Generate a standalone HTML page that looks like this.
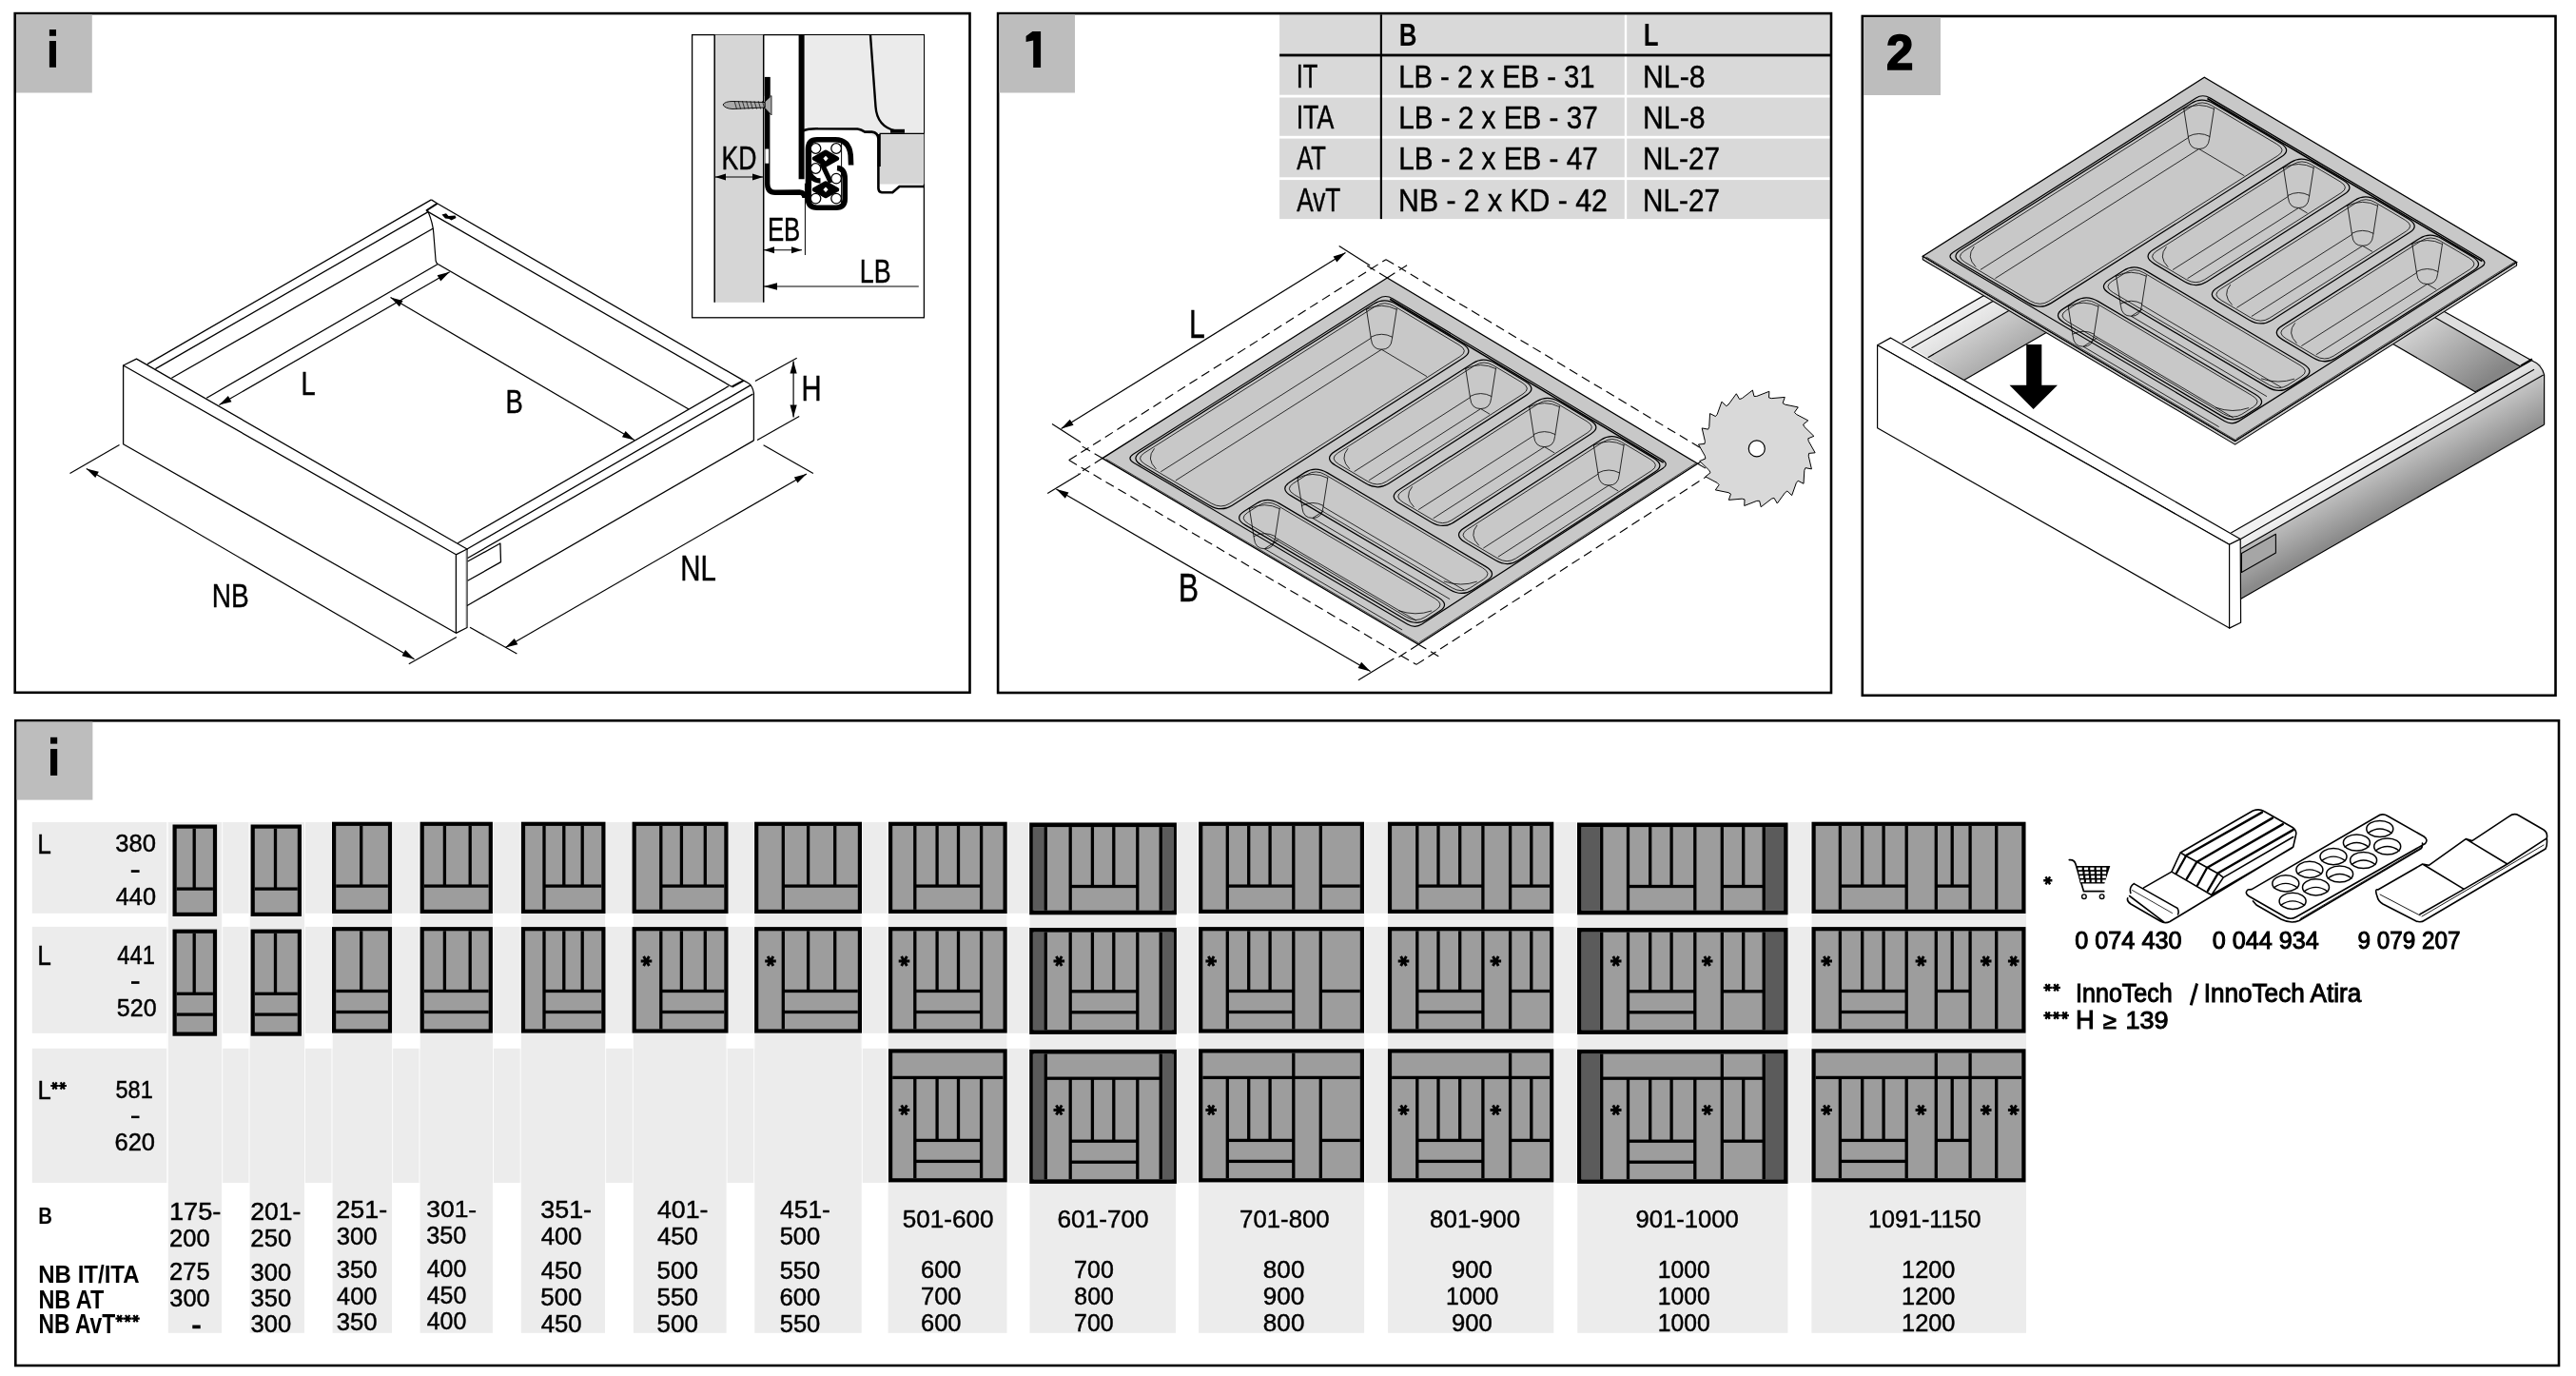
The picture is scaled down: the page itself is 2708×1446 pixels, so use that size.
<!DOCTYPE html><html><head><meta charset="utf-8"><style>html,body{margin:0;padding:0;background:#fff;overflow:hidden}svg{display:block;will-change:transform}text{font-family:"Liberation Sans",sans-serif}</style></head><body><svg xmlns="http://www.w3.org/2000/svg" width="2708" height="1446" viewBox="0 0 2708 1446" font-family="Liberation Sans, sans-serif"><rect x="33.80" y="864.00" width="2096.20" height="95.80" fill="#ececec"/><rect x="33.80" y="973.90" width="2096.20" height="111.90" fill="#ececec"/><rect x="33.80" y="1101.80" width="2096.20" height="141.20" fill="#ececec"/><rect x="176.80" y="864.00" width="56.30" height="536.80" fill="#ececec"/><rect x="262.60" y="864.00" width="57.30" height="536.80" fill="#ececec"/><rect x="349.60" y="864.00" width="62.40" height="536.80" fill="#ececec"/><rect x="441.60" y="864.00" width="76.30" height="536.80" fill="#ececec"/><rect x="547.80" y="864.00" width="88.20" height="536.80" fill="#ececec"/><rect x="665.90" y="864.00" width="97.70" height="536.80" fill="#ececec"/><rect x="793.30" y="864.00" width="112.40" height="536.80" fill="#ececec"/><rect x="933.60" y="864.00" width="124.90" height="536.80" fill="#ececec"/><rect x="1082.50" y="864.00" width="153.50" height="536.80" fill="#ececec"/><rect x="1260.10" y="864.00" width="174.00" height="536.80" fill="#ececec"/><rect x="1459.10" y="864.00" width="174.20" height="536.80" fill="#ececec"/><rect x="1658.30" y="864.00" width="221.10" height="536.80" fill="#ececec"/><rect x="1904.40" y="864.00" width="225.60" height="536.80" fill="#ececec"/><rect x="175.30" y="864.00" width="1.00" height="379.00" fill="#fdfdfd"/><rect x="175.70" y="864.00" width="1.00" height="379.00" fill="#fdfdfd"/><rect x="233.20" y="864.00" width="1.00" height="379.00" fill="#fdfdfd"/><rect x="261.50" y="864.00" width="1.00" height="379.00" fill="#fdfdfd"/><rect x="320.00" y="864.00" width="1.00" height="379.00" fill="#fdfdfd"/><rect x="348.50" y="864.00" width="1.00" height="379.00" fill="#fdfdfd"/><rect x="412.10" y="864.00" width="1.00" height="379.00" fill="#fdfdfd"/><rect x="440.50" y="864.00" width="1.00" height="379.00" fill="#fdfdfd"/><rect x="518.00" y="864.00" width="1.00" height="379.00" fill="#fdfdfd"/><rect x="546.70" y="864.00" width="1.00" height="379.00" fill="#fdfdfd"/><rect x="636.10" y="864.00" width="1.00" height="379.00" fill="#fdfdfd"/><rect x="664.80" y="864.00" width="1.00" height="379.00" fill="#fdfdfd"/><rect x="763.70" y="864.00" width="1.00" height="379.00" fill="#fdfdfd"/><rect x="792.20" y="864.00" width="1.00" height="379.00" fill="#fdfdfd"/><rect x="905.80" y="864.00" width="1.00" height="379.00" fill="#fdfdfd"/><rect x="932.50" y="864.00" width="1.00" height="379.00" fill="#fdfdfd"/><rect x="1058.60" y="864.00" width="1.00" height="379.00" fill="#fdfdfd"/><rect x="1081.40" y="864.00" width="1.00" height="379.00" fill="#fdfdfd"/><rect x="1236.10" y="864.00" width="1.00" height="379.00" fill="#fdfdfd"/><rect x="1259.00" y="864.00" width="1.00" height="379.00" fill="#fdfdfd"/><rect x="1434.20" y="864.00" width="1.00" height="379.00" fill="#fdfdfd"/><rect x="1458.00" y="864.00" width="1.00" height="379.00" fill="#fdfdfd"/><rect x="1633.40" y="864.00" width="1.00" height="379.00" fill="#fdfdfd"/><rect x="1657.20" y="864.00" width="1.00" height="379.00" fill="#fdfdfd"/><rect x="1879.50" y="864.00" width="1.00" height="379.00" fill="#fdfdfd"/><rect x="1903.30" y="864.00" width="1.00" height="379.00" fill="#fdfdfd"/><rect x="2130.10" y="864.00" width="1.00" height="379.00" fill="#fdfdfd"/><rect x="181.50" y="866.50" width="46.60" height="96.50" fill="#000"/><rect x="185.70" y="870.70" width="38.20" height="88.10" fill="#9d9d9d"/><rect x="185.70" y="932.45" width="38.20" height="3.30" fill="#000"/><rect x="202.55" y="870.70" width="3.30" height="63.40" fill="#000"/><rect x="181.50" y="976.60" width="46.60" height="112.10" fill="#000"/><rect x="185.70" y="980.80" width="38.20" height="103.70" fill="#9d9d9d"/><rect x="185.70" y="1042.65" width="38.20" height="3.30" fill="#000"/><rect x="185.70" y="1064.45" width="38.20" height="3.30" fill="#000"/><rect x="202.55" y="980.80" width="3.30" height="63.50" fill="#000"/><rect x="263.60" y="866.50" width="53.40" height="96.50" fill="#000"/><rect x="267.80" y="870.70" width="45.00" height="88.10" fill="#9d9d9d"/><rect x="267.80" y="932.45" width="45.00" height="3.30" fill="#000"/><rect x="287.85" y="870.70" width="3.30" height="63.40" fill="#000"/><rect x="263.60" y="976.60" width="53.40" height="112.10" fill="#000"/><rect x="267.80" y="980.80" width="45.00" height="103.70" fill="#9d9d9d"/><rect x="267.80" y="1042.65" width="45.00" height="3.30" fill="#000"/><rect x="267.80" y="1064.45" width="45.00" height="3.30" fill="#000"/><rect x="287.85" y="980.80" width="3.30" height="63.50" fill="#000"/><rect x="349.00" y="863.70" width="63.10" height="96.30" fill="#000"/><rect x="353.20" y="867.90" width="54.70" height="87.90" fill="#9d9d9d"/><rect x="353.20" y="929.45" width="54.70" height="3.30" fill="#000"/><rect x="378.05" y="867.90" width="3.30" height="63.20" fill="#000"/><rect x="349.00" y="974.10" width="63.10" height="111.50" fill="#000"/><rect x="353.20" y="978.30" width="54.70" height="103.10" fill="#9d9d9d"/><rect x="353.20" y="1039.85" width="54.70" height="3.30" fill="#000"/><rect x="353.20" y="1061.85" width="54.70" height="3.30" fill="#000"/><rect x="378.05" y="978.30" width="3.30" height="63.20" fill="#000"/><rect x="441.60" y="863.70" width="76.30" height="96.30" fill="#000"/><rect x="445.80" y="867.90" width="67.90" height="87.90" fill="#9d9d9d"/><rect x="445.80" y="929.45" width="67.90" height="3.30" fill="#000"/><rect x="465.75" y="867.90" width="3.30" height="63.20" fill="#000"/><rect x="492.55" y="867.90" width="3.30" height="63.20" fill="#000"/><rect x="441.60" y="974.10" width="76.30" height="111.50" fill="#000"/><rect x="445.80" y="978.30" width="67.90" height="103.10" fill="#9d9d9d"/><rect x="445.80" y="1039.85" width="67.90" height="3.30" fill="#000"/><rect x="445.80" y="1061.85" width="67.90" height="3.30" fill="#000"/><rect x="465.75" y="978.30" width="3.30" height="63.20" fill="#000"/><rect x="492.55" y="978.30" width="3.30" height="63.20" fill="#000"/><rect x="547.90" y="863.70" width="88.60" height="96.30" fill="#000"/><rect x="552.10" y="867.90" width="80.20" height="87.90" fill="#9d9d9d"/><rect x="570.35" y="867.90" width="3.30" height="87.90" fill="#000"/><rect x="572.00" y="929.45" width="60.30" height="3.30" fill="#000"/><rect x="591.15" y="867.90" width="3.30" height="63.20" fill="#000"/><rect x="610.55" y="867.90" width="3.30" height="63.20" fill="#000"/><rect x="547.90" y="974.10" width="88.60" height="111.50" fill="#000"/><rect x="552.10" y="978.30" width="80.20" height="103.10" fill="#9d9d9d"/><rect x="570.35" y="978.30" width="3.30" height="103.10" fill="#000"/><rect x="572.00" y="1039.85" width="60.30" height="3.30" fill="#000"/><rect x="572.00" y="1061.85" width="60.30" height="3.30" fill="#000"/><rect x="591.15" y="978.30" width="3.30" height="63.20" fill="#000"/><rect x="610.55" y="978.30" width="3.30" height="63.20" fill="#000"/><rect x="664.60" y="863.70" width="100.90" height="96.30" fill="#000"/><rect x="668.80" y="867.90" width="92.50" height="87.90" fill="#9d9d9d"/><rect x="693.15" y="867.90" width="3.30" height="87.90" fill="#000"/><rect x="694.80" y="929.45" width="66.50" height="3.30" fill="#000"/><rect x="714.75" y="867.90" width="3.30" height="63.20" fill="#000"/><rect x="739.65" y="867.90" width="3.30" height="63.20" fill="#000"/><rect x="664.60" y="974.10" width="100.90" height="111.50" fill="#000"/><rect x="668.80" y="978.30" width="92.50" height="103.10" fill="#9d9d9d"/><rect x="693.15" y="978.30" width="3.30" height="103.10" fill="#000"/><rect x="694.80" y="1039.85" width="66.50" height="3.30" fill="#000"/><rect x="694.80" y="1061.85" width="66.50" height="3.30" fill="#000"/><rect x="714.75" y="978.30" width="3.30" height="63.20" fill="#000"/><rect x="739.65" y="978.30" width="3.30" height="63.20" fill="#000"/><path d="M673.70 1010.00L685.30 1010.00M676.60 1004.98L682.40 1015.02M682.40 1004.98L676.60 1015.02" stroke="#000" stroke-width="2.90" fill="none"/><rect x="793.10" y="863.70" width="112.90" height="96.30" fill="#000"/><rect x="797.30" y="867.90" width="104.50" height="87.90" fill="#9d9d9d"/><rect x="821.65" y="867.90" width="3.30" height="87.90" fill="#000"/><rect x="823.30" y="929.45" width="78.50" height="3.30" fill="#000"/><rect x="847.95" y="867.90" width="3.30" height="63.20" fill="#000"/><rect x="876.05" y="867.90" width="3.30" height="63.20" fill="#000"/><rect x="793.10" y="974.10" width="112.90" height="111.50" fill="#000"/><rect x="797.30" y="978.30" width="104.50" height="103.10" fill="#9d9d9d"/><rect x="821.65" y="978.30" width="3.30" height="103.10" fill="#000"/><rect x="823.30" y="1039.85" width="78.50" height="3.30" fill="#000"/><rect x="823.30" y="1061.85" width="78.50" height="3.30" fill="#000"/><rect x="847.95" y="978.30" width="3.30" height="63.20" fill="#000"/><rect x="876.05" y="978.30" width="3.30" height="63.20" fill="#000"/><path d="M804.20 1010.00L815.80 1010.00M807.10 1004.98L812.90 1015.02M812.90 1004.98L807.10 1015.02" stroke="#000" stroke-width="2.90" fill="none"/><rect x="934.00" y="863.70" width="124.70" height="96.30" fill="#000"/><rect x="938.20" y="867.90" width="116.30" height="87.90" fill="#9d9d9d"/><rect x="960.15" y="867.90" width="3.30" height="87.90" fill="#000"/><rect x="1029.95" y="867.90" width="3.30" height="87.90" fill="#000"/><rect x="961.80" y="929.45" width="69.80" height="3.30" fill="#000"/><rect x="983.45" y="867.90" width="3.30" height="63.20" fill="#000"/><rect x="1005.85" y="867.90" width="3.30" height="63.20" fill="#000"/><rect x="934.00" y="974.10" width="124.70" height="111.50" fill="#000"/><rect x="938.20" y="978.30" width="116.30" height="103.10" fill="#9d9d9d"/><rect x="960.15" y="978.30" width="3.30" height="103.10" fill="#000"/><rect x="1029.95" y="978.30" width="3.30" height="103.10" fill="#000"/><rect x="961.80" y="1039.85" width="69.80" height="3.30" fill="#000"/><rect x="961.80" y="1061.85" width="69.80" height="3.30" fill="#000"/><rect x="983.45" y="978.30" width="3.30" height="63.20" fill="#000"/><rect x="1005.85" y="978.30" width="3.30" height="63.20" fill="#000"/><path d="M944.70 1010.00L956.30 1010.00M947.60 1004.98L953.40 1015.02M953.40 1004.98L947.60 1015.02" stroke="#000" stroke-width="2.90" fill="none"/><rect x="934.00" y="1102.30" width="124.70" height="140.10" fill="#000"/><rect x="938.20" y="1106.50" width="116.30" height="131.70" fill="#9d9d9d"/><rect x="938.20" y="1130.75" width="116.30" height="3.30" fill="#000"/><rect x="960.15" y="1132.40" width="3.30" height="105.80" fill="#000"/><rect x="1029.95" y="1132.40" width="3.30" height="105.80" fill="#000"/><rect x="961.80" y="1196.75" width="69.80" height="3.30" fill="#000"/><rect x="961.80" y="1218.75" width="69.80" height="3.30" fill="#000"/><rect x="983.45" y="1132.40" width="3.30" height="66.00" fill="#000"/><rect x="1005.85" y="1132.40" width="3.30" height="66.00" fill="#000"/><path d="M944.70 1166.50L956.30 1166.50M947.60 1161.48L953.40 1171.52M953.40 1161.48L947.60 1171.52" stroke="#000" stroke-width="2.90" fill="none"/><rect x="1082.20" y="864.50" width="154.70" height="96.80" fill="#000"/><rect x="1086.80" y="869.10" width="145.50" height="87.60" fill="#9d9d9d"/><rect x="1085.70" y="869.10" width="12.20" height="87.60" fill="#5b5b5b"/><rect x="1220.90" y="869.10" width="13.10" height="87.60" fill="#5b5b5b"/><rect x="1097.65" y="869.10" width="3.30" height="87.60" fill="#000"/><rect x="1123.55" y="869.10" width="3.30" height="87.60" fill="#000"/><rect x="1194.15" y="869.10" width="3.30" height="87.60" fill="#000"/><rect x="1218.55" y="869.10" width="3.30" height="87.60" fill="#000"/><rect x="1125.20" y="929.85" width="70.60" height="3.30" fill="#000"/><rect x="1146.75" y="869.10" width="3.30" height="62.40" fill="#000"/><rect x="1169.15" y="869.10" width="3.30" height="62.40" fill="#000"/><rect x="1082.20" y="975.00" width="154.70" height="111.90" fill="#000"/><rect x="1086.80" y="979.60" width="145.50" height="102.70" fill="#9d9d9d"/><rect x="1085.70" y="979.60" width="12.20" height="102.70" fill="#5b5b5b"/><rect x="1220.90" y="979.60" width="13.10" height="102.70" fill="#5b5b5b"/><rect x="1097.65" y="979.60" width="3.30" height="102.70" fill="#000"/><rect x="1123.55" y="979.60" width="3.30" height="102.70" fill="#000"/><rect x="1194.15" y="979.60" width="3.30" height="102.70" fill="#000"/><rect x="1218.55" y="979.60" width="3.30" height="102.70" fill="#000"/><rect x="1125.20" y="1040.15" width="70.60" height="3.30" fill="#000"/><rect x="1125.20" y="1062.15" width="70.60" height="3.30" fill="#000"/><rect x="1146.75" y="979.60" width="3.30" height="62.20" fill="#000"/><rect x="1169.15" y="979.60" width="3.30" height="62.20" fill="#000"/><path d="M1107.50 1010.00L1119.10 1010.00M1110.40 1004.98L1116.20 1015.02M1116.20 1004.98L1110.40 1015.02" stroke="#000" stroke-width="2.90" fill="none"/><rect x="1082.20" y="1102.90" width="154.70" height="141.00" fill="#000"/><rect x="1086.80" y="1107.50" width="145.50" height="131.80" fill="#9d9d9d"/><rect x="1085.70" y="1107.50" width="12.20" height="131.80" fill="#5b5b5b"/><rect x="1220.90" y="1107.50" width="13.10" height="131.80" fill="#5b5b5b"/><rect x="1099.30" y="1131.55" width="120.90" height="3.30" fill="#000"/><rect x="1097.65" y="1107.50" width="3.30" height="131.80" fill="#000"/><rect x="1123.55" y="1133.20" width="3.30" height="106.10" fill="#000"/><rect x="1194.15" y="1133.20" width="3.30" height="106.10" fill="#000"/><rect x="1218.55" y="1107.50" width="3.30" height="131.80" fill="#000"/><rect x="1125.20" y="1197.55" width="70.60" height="3.30" fill="#000"/><rect x="1125.20" y="1219.55" width="70.60" height="3.30" fill="#000"/><rect x="1146.75" y="1133.20" width="3.30" height="66.00" fill="#000"/><rect x="1169.15" y="1133.20" width="3.30" height="66.00" fill="#000"/><path d="M1107.50 1166.50L1119.10 1166.50M1110.40 1161.48L1116.20 1171.52M1116.20 1161.48L1110.40 1171.52" stroke="#000" stroke-width="2.90" fill="none"/><rect x="1260.10" y="863.70" width="173.90" height="96.30" fill="#000"/><rect x="1264.30" y="867.90" width="165.50" height="87.90" fill="#9d9d9d"/><rect x="1288.65" y="867.90" width="3.30" height="87.90" fill="#000"/><rect x="1358.15" y="867.90" width="3.30" height="87.90" fill="#000"/><rect x="1386.65" y="867.90" width="3.30" height="87.90" fill="#000"/><rect x="1290.30" y="929.45" width="69.50" height="3.30" fill="#000"/><rect x="1388.30" y="929.45" width="41.50" height="3.30" fill="#000"/><rect x="1311.05" y="867.90" width="3.30" height="63.20" fill="#000"/><rect x="1333.45" y="867.90" width="3.30" height="63.20" fill="#000"/><rect x="1260.10" y="974.10" width="173.90" height="111.50" fill="#000"/><rect x="1264.30" y="978.30" width="165.50" height="103.10" fill="#9d9d9d"/><rect x="1288.65" y="978.30" width="3.30" height="103.10" fill="#000"/><rect x="1358.15" y="978.30" width="3.30" height="103.10" fill="#000"/><rect x="1386.65" y="978.30" width="3.30" height="103.10" fill="#000"/><rect x="1290.30" y="1039.85" width="69.50" height="3.30" fill="#000"/><rect x="1290.30" y="1061.85" width="69.50" height="3.30" fill="#000"/><rect x="1388.30" y="1039.85" width="41.50" height="3.30" fill="#000"/><rect x="1311.05" y="978.30" width="3.30" height="63.20" fill="#000"/><rect x="1333.45" y="978.30" width="3.30" height="63.20" fill="#000"/><path d="M1267.40 1010.00L1279.00 1010.00M1270.30 1004.98L1276.10 1015.02M1276.10 1004.98L1270.30 1015.02" stroke="#000" stroke-width="2.90" fill="none"/><rect x="1260.10" y="1102.30" width="173.90" height="140.10" fill="#000"/><rect x="1264.30" y="1106.50" width="165.50" height="131.70" fill="#9d9d9d"/><rect x="1264.30" y="1130.75" width="165.50" height="3.30" fill="#000"/><rect x="1288.65" y="1132.40" width="3.30" height="105.80" fill="#000"/><rect x="1358.15" y="1106.50" width="3.30" height="131.70" fill="#000"/><rect x="1386.65" y="1132.40" width="3.30" height="105.80" fill="#000"/><rect x="1290.30" y="1196.75" width="69.50" height="3.30" fill="#000"/><rect x="1290.30" y="1218.75" width="69.50" height="3.30" fill="#000"/><rect x="1388.30" y="1196.75" width="41.50" height="3.30" fill="#000"/><rect x="1311.05" y="1132.40" width="3.30" height="66.00" fill="#000"/><rect x="1333.45" y="1132.40" width="3.30" height="66.00" fill="#000"/><path d="M1267.40 1166.50L1279.00 1166.50M1270.30 1161.48L1276.10 1171.52M1276.10 1161.48L1270.30 1171.52" stroke="#000" stroke-width="2.90" fill="none"/><rect x="1458.90" y="863.70" width="174.40" height="96.30" fill="#000"/><rect x="1463.10" y="867.90" width="166.00" height="87.90" fill="#9d9d9d"/><rect x="1488.15" y="867.90" width="3.30" height="87.90" fill="#000"/><rect x="1557.25" y="867.90" width="3.30" height="87.90" fill="#000"/><rect x="1585.95" y="867.90" width="3.30" height="87.90" fill="#000"/><rect x="1489.80" y="929.45" width="69.10" height="3.30" fill="#000"/><rect x="1587.60" y="929.45" width="41.50" height="3.30" fill="#000"/><rect x="1510.35" y="867.90" width="3.30" height="63.20" fill="#000"/><rect x="1533.05" y="867.90" width="3.30" height="63.20" fill="#000"/><rect x="1608.15" y="867.90" width="3.30" height="63.20" fill="#000"/><rect x="1458.90" y="974.10" width="174.40" height="111.50" fill="#000"/><rect x="1463.10" y="978.30" width="166.00" height="103.10" fill="#9d9d9d"/><rect x="1488.15" y="978.30" width="3.30" height="103.10" fill="#000"/><rect x="1557.25" y="978.30" width="3.30" height="103.10" fill="#000"/><rect x="1585.95" y="978.30" width="3.30" height="103.10" fill="#000"/><rect x="1489.80" y="1039.85" width="69.10" height="3.30" fill="#000"/><rect x="1489.80" y="1061.85" width="69.10" height="3.30" fill="#000"/><rect x="1587.60" y="1039.85" width="41.50" height="3.30" fill="#000"/><rect x="1510.35" y="978.30" width="3.30" height="63.20" fill="#000"/><rect x="1533.05" y="978.30" width="3.30" height="63.20" fill="#000"/><rect x="1608.15" y="978.30" width="3.30" height="63.20" fill="#000"/><path d="M1469.70 1010.00L1481.30 1010.00M1472.60 1004.98L1478.40 1015.02M1478.40 1004.98L1472.60 1015.02" stroke="#000" stroke-width="2.90" fill="none"/><path d="M1566.50 1010.00L1578.10 1010.00M1569.40 1004.98L1575.20 1015.02M1575.20 1004.98L1569.40 1015.02" stroke="#000" stroke-width="2.90" fill="none"/><rect x="1458.90" y="1102.30" width="174.40" height="140.10" fill="#000"/><rect x="1463.10" y="1106.50" width="166.00" height="131.70" fill="#9d9d9d"/><rect x="1463.10" y="1130.75" width="166.00" height="3.30" fill="#000"/><rect x="1488.15" y="1132.40" width="3.30" height="105.80" fill="#000"/><rect x="1557.25" y="1132.40" width="3.30" height="105.80" fill="#000"/><rect x="1585.95" y="1106.50" width="3.30" height="131.70" fill="#000"/><rect x="1489.80" y="1196.75" width="69.10" height="3.30" fill="#000"/><rect x="1489.80" y="1218.75" width="69.10" height="3.30" fill="#000"/><rect x="1587.60" y="1196.75" width="41.50" height="3.30" fill="#000"/><rect x="1510.35" y="1132.40" width="3.30" height="66.00" fill="#000"/><rect x="1533.05" y="1132.40" width="3.30" height="66.00" fill="#000"/><rect x="1608.15" y="1132.40" width="3.30" height="66.00" fill="#000"/><path d="M1469.70 1166.50L1481.30 1166.50M1472.60 1161.48L1478.40 1171.52M1478.40 1161.48L1472.60 1171.52" stroke="#000" stroke-width="2.90" fill="none"/><path d="M1566.50 1166.50L1578.10 1166.50M1569.40 1161.48L1575.20 1171.52M1575.20 1161.48L1569.40 1171.52" stroke="#000" stroke-width="2.90" fill="none"/><rect x="1658.00" y="864.50" width="221.50" height="96.80" fill="#000"/><rect x="1662.60" y="869.10" width="212.30" height="87.60" fill="#9d9d9d"/><rect x="1662.40" y="869.10" width="19.50" height="87.60" fill="#5b5b5b"/><rect x="1855.10" y="869.10" width="20.10" height="87.60" fill="#5b5b5b"/><rect x="1682.05" y="869.10" width="3.30" height="87.60" fill="#000"/><rect x="1709.85" y="869.10" width="3.30" height="87.60" fill="#000"/><rect x="1780.15" y="869.10" width="3.30" height="87.60" fill="#000"/><rect x="1808.65" y="869.10" width="3.30" height="87.60" fill="#000"/><rect x="1852.55" y="869.10" width="3.30" height="87.60" fill="#000"/><rect x="1711.50" y="929.85" width="70.30" height="3.30" fill="#000"/><rect x="1810.30" y="929.85" width="43.90" height="3.30" fill="#000"/><rect x="1733.05" y="869.10" width="3.30" height="62.40" fill="#000"/><rect x="1755.45" y="869.10" width="3.30" height="62.40" fill="#000"/><rect x="1831.05" y="869.10" width="3.30" height="62.40" fill="#000"/><rect x="1658.00" y="975.00" width="221.50" height="111.90" fill="#000"/><rect x="1662.60" y="979.60" width="212.30" height="102.70" fill="#9d9d9d"/><rect x="1662.40" y="979.60" width="19.50" height="102.70" fill="#5b5b5b"/><rect x="1855.10" y="979.60" width="20.10" height="102.70" fill="#5b5b5b"/><rect x="1682.05" y="979.60" width="3.30" height="102.70" fill="#000"/><rect x="1709.85" y="979.60" width="3.30" height="102.70" fill="#000"/><rect x="1780.15" y="979.60" width="3.30" height="102.70" fill="#000"/><rect x="1808.65" y="979.60" width="3.30" height="102.70" fill="#000"/><rect x="1852.55" y="979.60" width="3.30" height="102.70" fill="#000"/><rect x="1711.50" y="1040.15" width="70.30" height="3.30" fill="#000"/><rect x="1711.50" y="1062.15" width="70.30" height="3.30" fill="#000"/><rect x="1810.30" y="1040.15" width="43.90" height="3.30" fill="#000"/><rect x="1733.05" y="979.60" width="3.30" height="62.20" fill="#000"/><rect x="1755.45" y="979.60" width="3.30" height="62.20" fill="#000"/><rect x="1831.05" y="979.60" width="3.30" height="62.20" fill="#000"/><path d="M1692.90 1010.00L1704.50 1010.00M1695.80 1004.98L1701.60 1015.02M1701.60 1004.98L1695.80 1015.02" stroke="#000" stroke-width="2.90" fill="none"/><path d="M1788.90 1010.00L1800.50 1010.00M1791.80 1004.98L1797.60 1015.02M1797.60 1004.98L1791.80 1015.02" stroke="#000" stroke-width="2.90" fill="none"/><rect x="1658.00" y="1102.90" width="221.50" height="141.00" fill="#000"/><rect x="1662.60" y="1107.50" width="212.30" height="131.80" fill="#9d9d9d"/><rect x="1662.40" y="1107.50" width="19.50" height="131.80" fill="#5b5b5b"/><rect x="1855.10" y="1107.50" width="20.10" height="131.80" fill="#5b5b5b"/><rect x="1683.70" y="1131.55" width="170.50" height="3.30" fill="#000"/><rect x="1682.05" y="1107.50" width="3.30" height="131.80" fill="#000"/><rect x="1709.85" y="1133.20" width="3.30" height="106.10" fill="#000"/><rect x="1780.15" y="1133.20" width="3.30" height="106.10" fill="#000"/><rect x="1808.65" y="1107.50" width="3.30" height="131.80" fill="#000"/><rect x="1852.55" y="1107.50" width="3.30" height="131.80" fill="#000"/><rect x="1711.50" y="1197.55" width="70.30" height="3.30" fill="#000"/><rect x="1711.50" y="1219.55" width="70.30" height="3.30" fill="#000"/><rect x="1810.30" y="1197.55" width="43.90" height="3.30" fill="#000"/><rect x="1733.05" y="1133.20" width="3.30" height="66.00" fill="#000"/><rect x="1755.45" y="1133.20" width="3.30" height="66.00" fill="#000"/><rect x="1831.05" y="1133.20" width="3.30" height="66.00" fill="#000"/><path d="M1692.90 1166.50L1704.50 1166.50M1695.80 1161.48L1701.60 1171.52M1701.60 1161.48L1695.80 1171.52" stroke="#000" stroke-width="2.90" fill="none"/><path d="M1788.90 1166.50L1800.50 1166.50M1791.80 1161.48L1797.60 1171.52M1797.60 1161.48L1791.80 1171.52" stroke="#000" stroke-width="2.90" fill="none"/><rect x="1904.50" y="863.70" width="225.00" height="96.30" fill="#000"/><rect x="1908.70" y="867.90" width="216.60" height="87.90" fill="#9d9d9d"/><rect x="1932.75" y="867.90" width="3.30" height="87.90" fill="#000"/><rect x="2002.55" y="867.90" width="3.30" height="87.90" fill="#000"/><rect x="2033.65" y="867.90" width="3.30" height="87.90" fill="#000"/><rect x="2069.45" y="867.90" width="3.30" height="87.90" fill="#000"/><rect x="2097.05" y="867.90" width="3.30" height="87.90" fill="#000"/><rect x="1934.40" y="929.45" width="69.80" height="3.30" fill="#000"/><rect x="2035.30" y="929.45" width="35.80" height="3.30" fill="#000"/><rect x="1956.05" y="867.90" width="3.30" height="63.20" fill="#000"/><rect x="1978.45" y="867.90" width="3.30" height="63.20" fill="#000"/><rect x="2050.55" y="867.90" width="3.30" height="63.20" fill="#000"/><rect x="1904.50" y="974.10" width="225.00" height="111.50" fill="#000"/><rect x="1908.70" y="978.30" width="216.60" height="103.10" fill="#9d9d9d"/><rect x="1932.75" y="978.30" width="3.30" height="103.10" fill="#000"/><rect x="2002.55" y="978.30" width="3.30" height="103.10" fill="#000"/><rect x="2033.65" y="978.30" width="3.30" height="103.10" fill="#000"/><rect x="2069.45" y="978.30" width="3.30" height="103.10" fill="#000"/><rect x="2097.05" y="978.30" width="3.30" height="103.10" fill="#000"/><rect x="1934.40" y="1039.85" width="69.80" height="3.30" fill="#000"/><rect x="1934.40" y="1061.85" width="69.80" height="3.30" fill="#000"/><rect x="2035.30" y="1039.85" width="35.80" height="3.30" fill="#000"/><rect x="1956.05" y="978.30" width="3.30" height="63.20" fill="#000"/><rect x="1978.45" y="978.30" width="3.30" height="63.20" fill="#000"/><rect x="2050.55" y="978.30" width="3.30" height="63.20" fill="#000"/><path d="M1914.40 1010.00L1926.00 1010.00M1917.30 1004.98L1923.10 1015.02M1923.10 1004.98L1917.30 1015.02" stroke="#000" stroke-width="2.90" fill="none"/><path d="M2013.60 1010.00L2025.20 1010.00M2016.50 1004.98L2022.30 1015.02M2022.30 1004.98L2016.50 1015.02" stroke="#000" stroke-width="2.90" fill="none"/><path d="M2081.90 1010.00L2093.50 1010.00M2084.80 1004.98L2090.60 1015.02M2090.60 1004.98L2084.80 1015.02" stroke="#000" stroke-width="2.90" fill="none"/><path d="M2110.90 1010.00L2122.50 1010.00M2113.80 1004.98L2119.60 1015.02M2119.60 1004.98L2113.80 1015.02" stroke="#000" stroke-width="2.90" fill="none"/><rect x="1904.50" y="1102.30" width="225.00" height="140.10" fill="#000"/><rect x="1908.70" y="1106.50" width="216.60" height="131.70" fill="#9d9d9d"/><rect x="1908.70" y="1130.75" width="216.60" height="3.30" fill="#000"/><rect x="1932.75" y="1132.40" width="3.30" height="105.80" fill="#000"/><rect x="2002.55" y="1132.40" width="3.30" height="105.80" fill="#000"/><rect x="2033.65" y="1106.50" width="3.30" height="131.70" fill="#000"/><rect x="2069.45" y="1106.50" width="3.30" height="131.70" fill="#000"/><rect x="2097.05" y="1132.40" width="3.30" height="105.80" fill="#000"/><rect x="1934.40" y="1196.75" width="69.80" height="3.30" fill="#000"/><rect x="1934.40" y="1218.75" width="69.80" height="3.30" fill="#000"/><rect x="2035.30" y="1196.75" width="35.80" height="3.30" fill="#000"/><rect x="1956.05" y="1132.40" width="3.30" height="66.00" fill="#000"/><rect x="1978.45" y="1132.40" width="3.30" height="66.00" fill="#000"/><rect x="2050.55" y="1132.40" width="3.30" height="66.00" fill="#000"/><path d="M1914.40 1166.50L1926.00 1166.50M1917.30 1161.48L1923.10 1171.52M1923.10 1161.48L1917.30 1171.52" stroke="#000" stroke-width="2.90" fill="none"/><path d="M2013.60 1166.50L2025.20 1166.50M2016.50 1161.48L2022.30 1171.52M2022.30 1161.48L2016.50 1171.52" stroke="#000" stroke-width="2.90" fill="none"/><path d="M2081.90 1166.50L2093.50 1166.50M2084.80 1161.48L2090.60 1171.52M2090.60 1161.48L2084.80 1171.52" stroke="#000" stroke-width="2.90" fill="none"/><path d="M2110.90 1166.50L2122.50 1166.50M2113.80 1161.48L2119.60 1171.52M2119.60 1161.48L2113.80 1171.52" stroke="#000" stroke-width="2.90" fill="none"/><text x="39.24" y="897.20" font-size="29.07" stroke="#000" stroke-width="0.45" textLength="14.63" lengthAdjust="spacingAndGlyphs" fill="#000">L</text><text x="121.33" y="895.40" font-size="26.07" stroke="#000" stroke-width="0.45" textLength="42.67" lengthAdjust="spacingAndGlyphs" fill="#000">380</text><rect x="137.80" y="914.20" width="8.80" height="2.70" fill="#000"/><text x="121.72" y="951.30" font-size="26.21" stroke="#000" stroke-width="0.45" textLength="42.27" lengthAdjust="spacingAndGlyphs" fill="#000">440</text><text x="39.24" y="1013.60" font-size="29.07" stroke="#000" stroke-width="0.45" textLength="14.63" lengthAdjust="spacingAndGlyphs" fill="#000">L</text><text x="123.26" y="1013.20" font-size="28.49" stroke="#000" stroke-width="0.45" textLength="39.60" lengthAdjust="spacingAndGlyphs" fill="#000">441</text><rect x="138.00" y="1031.20" width="8.50" height="2.70" fill="#000"/><text x="122.80" y="1068.00" font-size="25.78" stroke="#000" stroke-width="0.45" textLength="41.78" lengthAdjust="spacingAndGlyphs" fill="#000">520</text><text x="39.60" y="1155.30" font-size="27.62" stroke="#000" stroke-width="0.45" textLength="14.25" lengthAdjust="spacingAndGlyphs" fill="#000">L</text><path d="M53.30 1141.00L61.70 1141.00M55.40 1137.36L59.60 1144.64M59.60 1137.36L55.40 1144.64" stroke="#000" stroke-width="2.20" fill="none"/><path d="M61.60 1141.00L70.00 1141.00M63.70 1137.36L67.90 1144.64M67.90 1137.36L63.70 1144.64" stroke="#000" stroke-width="2.20" fill="none"/><text x="121.56" y="1153.80" font-size="26.07" stroke="#000" stroke-width="0.45" textLength="39.19" lengthAdjust="spacingAndGlyphs" fill="#000">581</text><rect x="138.00" y="1172.60" width="8.50" height="2.50" fill="#000"/><text x="120.51" y="1209.20" font-size="25.78" stroke="#000" stroke-width="0.45" textLength="42.49" lengthAdjust="spacingAndGlyphs" fill="#000">620</text><text x="40.34" y="1285.50" font-size="23.98" font-weight="bold" textLength="14.68" lengthAdjust="spacingAndGlyphs" fill="#000">B</text><text x="40.22" y="1347.50" font-size="26.50" font-weight="bold" textLength="106.41" lengthAdjust="spacingAndGlyphs" fill="#000">NB IT/ITA</text><text x="40.39" y="1374.90" font-size="28.49" font-weight="bold" textLength="68.95" lengthAdjust="spacingAndGlyphs" fill="#000">NB AT</text><text x="40.40" y="1401.00" font-size="28.63" font-weight="bold" textLength="80.84" lengthAdjust="spacingAndGlyphs" fill="#000">NB AvT</text><path d="M121.40 1385.60L129.80 1385.60M123.50 1381.96L127.70 1389.24M127.70 1381.96L123.50 1389.24" stroke="#000" stroke-width="2.20" fill="none"/><path d="M129.90 1385.60L138.30 1385.60M132.00 1381.96L136.20 1389.24M136.20 1381.96L132.00 1389.24" stroke="#000" stroke-width="2.20" fill="none"/><path d="M138.40 1385.60L146.80 1385.60M140.50 1381.96L144.70 1389.24M144.70 1381.96L140.50 1389.24" stroke="#000" stroke-width="2.20" fill="none"/><text x="177.93" y="1281.80" font-size="25.87" stroke="#000" stroke-width="0.45" textLength="54.48" lengthAdjust="spacingAndGlyphs" fill="#000">175-</text><text x="178.02" y="1309.70" font-size="25.35" stroke="#000" stroke-width="0.45" textLength="42.58" lengthAdjust="spacingAndGlyphs" fill="#000">200</text><text x="178.01" y="1345.20" font-size="24.92" stroke="#000" stroke-width="0.45" textLength="42.66" lengthAdjust="spacingAndGlyphs" fill="#000">275</text><text x="178.34" y="1372.90" font-size="25.06" stroke="#000" stroke-width="0.45" textLength="42.25" lengthAdjust="spacingAndGlyphs" fill="#000">300</text><text x="263.27" y="1281.80" font-size="25.49" stroke="#000" stroke-width="0.45" textLength="53.11" lengthAdjust="spacingAndGlyphs" fill="#000">201-</text><text x="263.30" y="1309.70" font-size="25.35" stroke="#000" stroke-width="0.45" textLength="43.00" lengthAdjust="spacingAndGlyphs" fill="#000">250</text><text x="263.63" y="1345.70" font-size="24.92" stroke="#000" stroke-width="0.45" textLength="42.67" lengthAdjust="spacingAndGlyphs" fill="#000">300</text><text x="263.63" y="1372.90" font-size="25.06" stroke="#000" stroke-width="0.45" textLength="42.67" lengthAdjust="spacingAndGlyphs" fill="#000">350</text><text x="263.63" y="1400.00" font-size="24.92" stroke="#000" stroke-width="0.45" textLength="42.67" lengthAdjust="spacingAndGlyphs" fill="#000">300</text><text x="353.35" y="1280.10" font-size="25.49" stroke="#000" stroke-width="0.45" textLength="53.74" lengthAdjust="spacingAndGlyphs" fill="#000">251-</text><text x="353.72" y="1307.80" font-size="25.49" stroke="#000" stroke-width="0.45" textLength="42.78" lengthAdjust="spacingAndGlyphs" fill="#000">300</text><text x="353.72" y="1343.30" font-size="25.06" stroke="#000" stroke-width="0.45" textLength="42.78" lengthAdjust="spacingAndGlyphs" fill="#000">350</text><text x="354.12" y="1370.50" font-size="25.06" stroke="#000" stroke-width="0.45" textLength="42.37" lengthAdjust="spacingAndGlyphs" fill="#000">400</text><text x="353.72" y="1398.40" font-size="25.06" stroke="#000" stroke-width="0.45" textLength="42.78" lengthAdjust="spacingAndGlyphs" fill="#000">350</text><text x="448.29" y="1278.90" font-size="24.78" stroke="#000" stroke-width="0.45" textLength="52.88" lengthAdjust="spacingAndGlyphs" fill="#000">301-</text><text x="448.34" y="1306.50" font-size="25.49" stroke="#000" stroke-width="0.45" textLength="42.04" lengthAdjust="spacingAndGlyphs" fill="#000">350</text><text x="448.73" y="1342.10" font-size="25.06" stroke="#000" stroke-width="0.45" textLength="41.65" lengthAdjust="spacingAndGlyphs" fill="#000">400</text><text x="448.73" y="1370.00" font-size="25.06" stroke="#000" stroke-width="0.45" textLength="41.65" lengthAdjust="spacingAndGlyphs" fill="#000">450</text><text x="448.73" y="1397.20" font-size="25.06" stroke="#000" stroke-width="0.45" textLength="41.65" lengthAdjust="spacingAndGlyphs" fill="#000">400</text><text x="568.28" y="1280.30" font-size="26.21" stroke="#000" stroke-width="0.45" textLength="53.82" lengthAdjust="spacingAndGlyphs" fill="#000">351-</text><text x="568.71" y="1308.30" font-size="25.78" stroke="#000" stroke-width="0.45" textLength="42.89" lengthAdjust="spacingAndGlyphs" fill="#000">400</text><text x="568.71" y="1343.60" font-size="25.64" stroke="#000" stroke-width="0.45" textLength="42.89" lengthAdjust="spacingAndGlyphs" fill="#000">450</text><text x="568.26" y="1371.80" font-size="26.07" stroke="#000" stroke-width="0.45" textLength="43.36" lengthAdjust="spacingAndGlyphs" fill="#000">500</text><text x="568.71" y="1399.80" font-size="26.07" stroke="#000" stroke-width="0.45" textLength="42.89" lengthAdjust="spacingAndGlyphs" fill="#000">450</text><text x="690.99" y="1280.30" font-size="26.21" stroke="#000" stroke-width="0.45" textLength="53.40" lengthAdjust="spacingAndGlyphs" fill="#000">401-</text><text x="691.01" y="1308.30" font-size="25.78" stroke="#000" stroke-width="0.45" textLength="42.89" lengthAdjust="spacingAndGlyphs" fill="#000">450</text><text x="690.56" y="1343.60" font-size="25.64" stroke="#000" stroke-width="0.45" textLength="43.36" lengthAdjust="spacingAndGlyphs" fill="#000">500</text><text x="690.56" y="1371.80" font-size="26.07" stroke="#000" stroke-width="0.45" textLength="43.36" lengthAdjust="spacingAndGlyphs" fill="#000">550</text><text x="690.56" y="1399.80" font-size="26.07" stroke="#000" stroke-width="0.45" textLength="43.36" lengthAdjust="spacingAndGlyphs" fill="#000">500</text><text x="820.09" y="1280.30" font-size="26.60" stroke="#000" stroke-width="0.45" textLength="52.78" lengthAdjust="spacingAndGlyphs" fill="#000">451-</text><text x="819.68" y="1308.30" font-size="25.78" stroke="#000" stroke-width="0.45" textLength="42.62" lengthAdjust="spacingAndGlyphs" fill="#000">500</text><text x="819.68" y="1343.60" font-size="25.64" stroke="#000" stroke-width="0.45" textLength="42.62" lengthAdjust="spacingAndGlyphs" fill="#000">550</text><text x="819.39" y="1371.80" font-size="26.07" stroke="#000" stroke-width="0.45" textLength="42.91" lengthAdjust="spacingAndGlyphs" fill="#000">600</text><text x="819.68" y="1399.80" font-size="26.07" stroke="#000" stroke-width="0.45" textLength="42.62" lengthAdjust="spacingAndGlyphs" fill="#000">550</text><rect x="202.30" y="1392.50" width="8.40" height="3.70" fill="#000"/><text x="948.65" y="1290.30" font-size="26.07" stroke="#000" stroke-width="0.45" textLength="95.87" lengthAdjust="spacingAndGlyphs" fill="#000">501-600</text><text x="968.01" y="1343.00" font-size="25.64" stroke="#000" stroke-width="0.45" textLength="42.49" lengthAdjust="spacingAndGlyphs" fill="#000">600</text><text x="967.99" y="1370.90" font-size="25.92" stroke="#000" stroke-width="0.45" textLength="42.50" lengthAdjust="spacingAndGlyphs" fill="#000">700</text><text x="968.01" y="1398.90" font-size="26.35" stroke="#000" stroke-width="0.45" textLength="42.49" lengthAdjust="spacingAndGlyphs" fill="#000">600</text><text x="1111.47" y="1290.30" font-size="26.07" stroke="#000" stroke-width="0.45" textLength="96.15" lengthAdjust="spacingAndGlyphs" fill="#000">601-700</text><text x="1129.12" y="1343.00" font-size="25.64" stroke="#000" stroke-width="0.45" textLength="41.66" lengthAdjust="spacingAndGlyphs" fill="#000">700</text><text x="1129.32" y="1370.90" font-size="25.92" stroke="#000" stroke-width="0.45" textLength="41.45" lengthAdjust="spacingAndGlyphs" fill="#000">800</text><text x="1129.12" y="1398.90" font-size="26.35" stroke="#000" stroke-width="0.45" textLength="41.66" lengthAdjust="spacingAndGlyphs" fill="#000">700</text><text x="1303.08" y="1290.30" font-size="26.07" stroke="#000" stroke-width="0.45" textLength="94.53" lengthAdjust="spacingAndGlyphs" fill="#000">701-800</text><text x="1327.87" y="1343.00" font-size="25.64" stroke="#000" stroke-width="0.45" textLength="43.55" lengthAdjust="spacingAndGlyphs" fill="#000">800</text><text x="1327.77" y="1370.90" font-size="25.92" stroke="#000" stroke-width="0.45" textLength="43.65" lengthAdjust="spacingAndGlyphs" fill="#000">900</text><text x="1327.87" y="1398.90" font-size="26.35" stroke="#000" stroke-width="0.45" textLength="43.55" lengthAdjust="spacingAndGlyphs" fill="#000">800</text><text x="1503.07" y="1290.30" font-size="26.07" stroke="#000" stroke-width="0.45" textLength="95.14" lengthAdjust="spacingAndGlyphs" fill="#000">801-900</text><text x="1525.90" y="1343.00" font-size="25.64" stroke="#000" stroke-width="0.45" textLength="42.80" lengthAdjust="spacingAndGlyphs" fill="#000">900</text><text x="1520.11" y="1370.90" font-size="25.92" stroke="#000" stroke-width="0.45" textLength="55.16" lengthAdjust="spacingAndGlyphs" fill="#000">1000</text><text x="1525.90" y="1398.90" font-size="26.35" stroke="#000" stroke-width="0.45" textLength="42.80" lengthAdjust="spacingAndGlyphs" fill="#000">900</text><text x="1719.50" y="1290.30" font-size="26.07" stroke="#000" stroke-width="0.45" textLength="108.40" lengthAdjust="spacingAndGlyphs" fill="#000">901-1000</text><text x="1742.82" y="1343.00" font-size="25.64" stroke="#000" stroke-width="0.45" textLength="54.84" lengthAdjust="spacingAndGlyphs" fill="#000">1000</text><text x="1742.82" y="1370.90" font-size="25.92" stroke="#000" stroke-width="0.45" textLength="54.84" lengthAdjust="spacingAndGlyphs" fill="#000">1000</text><text x="1742.82" y="1398.90" font-size="26.35" stroke="#000" stroke-width="0.45" textLength="54.84" lengthAdjust="spacingAndGlyphs" fill="#000">1000</text><text x="1964.12" y="1290.30" font-size="26.07" stroke="#000" stroke-width="0.45" textLength="118.25" lengthAdjust="spacingAndGlyphs" fill="#000">1091-1150</text><text x="1999.07" y="1343.00" font-size="25.64" stroke="#000" stroke-width="0.45" textLength="56.42" lengthAdjust="spacingAndGlyphs" fill="#000">1200</text><text x="1999.07" y="1370.90" font-size="25.92" stroke="#000" stroke-width="0.45" textLength="56.42" lengthAdjust="spacingAndGlyphs" fill="#000">1200</text><text x="1999.07" y="1398.90" font-size="26.35" stroke="#000" stroke-width="0.45" textLength="56.42" lengthAdjust="spacingAndGlyphs" fill="#000">1200</text><path d="M129.60 384.00 L129.60 466.70 L479.40 665.30 L479.40 582.80 L129.60 384.00 Z" stroke="#000" stroke-width="1.30" fill="#fff" stroke-linejoin="round"/><path d="M129.60 384.00 L143.50 377.10 L491.00 577.00 L479.40 582.80" stroke="#000" stroke-width="1.30" fill="none" stroke-linejoin="round"/><path d="M491.00 577.00 L491.00 659.50 L479.40 665.30" stroke="#000" stroke-width="1.30" fill="none" stroke-linejoin="round"/><path d="M490.60 578.00 L490.60 659.00" stroke="#777" stroke-width="1.80" fill="none" stroke-linejoin="round"/><path d="M154.90 382.60 L453.40 209.90" stroke="#000" stroke-width="1.30" fill="none" stroke-linejoin="round"/><path d="M163.40 387.60 L450.10 222.60" stroke="#000" stroke-width="1.30" fill="none" stroke-linejoin="round"/><path d="M180.40 397.20 L455.40 240.00" stroke="#000" stroke-width="1.30" fill="none" stroke-linejoin="round"/><path d="M217.20 418.30 L460.30 277.50" stroke="#000" stroke-width="1.30" fill="none" stroke-linejoin="round"/><path d="M453.40 209.90 L459.60 213.80" stroke="#000" stroke-width="1.30" fill="none" stroke-linejoin="round"/><path d="M459.60 213.80 L448.60 221.00 L450.10 222.60" stroke="#000" stroke-width="2.00" fill="none" stroke-linejoin="round"/><path d="M450.1 222.6 Q455.2 235 455.8 245 L458.1 274.2 Q458.6 276.6 460.3 277.5" stroke="#000" stroke-width="1.2" fill="none"/><path d="M464.5 225.5 L469 224.2 L471.5 227 L478.5 226.6 L479.5 229 L474.5 231.6 L472 230 L468 229.6 Z" fill="#000"/><path d="M459.60 213.80 L781.70 399.90" stroke="#000" stroke-width="1.30" fill="none" stroke-linejoin="round"/><path d="M450.10 222.60 L769.50 406.50" stroke="#000" stroke-width="1.30" fill="none" stroke-linejoin="round"/><path d="M460.30 277.50 L724.00 430.00" stroke="#000" stroke-width="1.30" fill="none" stroke-linejoin="round"/><path d="M769.50 406.50 L781.70 399.90" stroke="#000" stroke-width="2.00" fill="none" stroke-linejoin="round"/><path d="M481.20 570.80 L766.00 405.80" stroke="#000" stroke-width="1.30" fill="none" stroke-linejoin="round"/><path d="M491.00 577.00 L789.30 404.60" stroke="#000" stroke-width="1.30" fill="none" stroke-linejoin="round"/><path d="M491.60 586.50 L791.40 414.10" stroke="#000" stroke-width="1.30" fill="none" stroke-linejoin="round"/><path d="M781.7 399.9 L786.5 402.5 Q791 405 792.4 413.1 L792.4 462.9" stroke="#000" stroke-width="1.3" fill="none"/><path d="M491.00 636.50 L792.40 462.90" stroke="#000" stroke-width="1.30" fill="none" stroke-linejoin="round"/><path d="M491.60 590.00 L525.90 571.00 L526.50 590.60 L491.60 610.30" stroke="#000" stroke-width="1.30" fill="none" stroke-linejoin="round"/><path d="M230.40 425.60 L472.70 285.80" stroke="#000" stroke-width="1.20" fill="none" stroke-linejoin="round"/><path d="M230.40 425.60 L243.46 422.22 L239.86 415.99 Z" fill="#000"/><path d="M472.70 285.80 L459.64 289.18 L463.24 295.41 Z" fill="#000"/><path d="M410.50 312.50 L667.00 462.60" stroke="#000" stroke-width="1.20" fill="none" stroke-linejoin="round"/><path d="M410.50 312.50 L419.90 322.17 L423.54 315.96 Z" fill="#000"/><path d="M667.00 462.60 L657.60 452.93 L653.96 459.14 Z" fill="#000"/><path d="M90.80 492.40 L435.60 692.70" stroke="#000" stroke-width="1.20" fill="none" stroke-linejoin="round"/><path d="M90.80 492.40 L100.23 502.04 L103.85 495.82 Z" fill="#000"/><path d="M435.60 692.70 L426.17 683.06 L422.55 689.28 Z" fill="#000"/><path d="M73.50 497.40 L125.50 467.40" stroke="#000" stroke-width="1.20" fill="none" stroke-linejoin="round"/><path d="M429.80 697.70 L479.90 669.60" stroke="#000" stroke-width="1.20" fill="none" stroke-linejoin="round"/><path d="M531.30 680.60 L847.90 498.00" stroke="#000" stroke-width="1.20" fill="none" stroke-linejoin="round"/><path d="M531.30 680.60 L544.36 677.22 L540.76 670.99 Z" fill="#000"/><path d="M847.90 498.00 L834.84 501.38 L838.44 507.61 Z" fill="#000"/><path d="M494.00 659.20 L543.40 687.10" stroke="#000" stroke-width="1.20" fill="none" stroke-linejoin="round"/><path d="M802.60 467.80 L854.90 497.50" stroke="#000" stroke-width="1.20" fill="none" stroke-linejoin="round"/><path d="M834.10 379.50 L834.10 438.50" stroke="#000" stroke-width="1.20" fill="none" stroke-linejoin="round"/><path d="M834.10 379.50 L830.50 392.50 L837.70 392.50 Z" fill="#000"/><path d="M834.10 438.50 L837.70 425.50 L830.50 425.50 Z" fill="#000"/><path d="M793.90 400.60 L837.70 376.20" stroke="#000" stroke-width="1.20" fill="none" stroke-linejoin="round"/><path d="M796.00 462.40 L840.20 437.50" stroke="#000" stroke-width="1.20" fill="none" stroke-linejoin="round"/><text x="316.57" y="414.80" font-size="35.61" stroke="#000" stroke-width="0.45" textLength="15.14" lengthAdjust="spacingAndGlyphs" fill="#000">L</text><text x="531.55" y="433.80" font-size="35.47" stroke="#000" stroke-width="0.45" textLength="18.30" lengthAdjust="spacingAndGlyphs" fill="#000">B</text><text x="222.70" y="637.80" font-size="35.47" stroke="#000" stroke-width="0.45" textLength="38.98" lengthAdjust="spacingAndGlyphs" fill="#000">NB</text><text x="715.19" y="609.80" font-size="36.05" stroke="#000" stroke-width="0.45" textLength="37.59" lengthAdjust="spacingAndGlyphs" fill="#000">NL</text><text x="842.41" y="420.70" font-size="36.19" stroke="#000" stroke-width="0.45" textLength="21.07" lengthAdjust="spacingAndGlyphs" fill="#000">H</text><rect x="727.6" y="36.6" width="243.8" height="297.2" fill="#fff" stroke="#000" stroke-width="1.3"/><rect x="751.2" y="36.6" width="51.5" height="281.2" fill="#d6d6d6"/><path d="M751.20 36.60 L751.20 317.80" stroke="#000" stroke-width="1.50" fill="none" stroke-linejoin="round"/><path d="M802.70 36.60 L802.70 317.80" stroke="#000" stroke-width="1.50" fill="none" stroke-linejoin="round"/><path d="M843.8 37.2 L971 37.2 L971 140.5 L925.9 140.5 L923 144.8 L909 139 L902 136.1 L844 136.8 Z" fill="#ebebeb"/><rect x="924.5" y="140.5" width="46.8" height="53.0" fill="#d6d6d6"/><path d="M924.50 140.30 L971.30 140.30" stroke="#000" stroke-width="1.30" fill="none" stroke-linejoin="round"/><path d="M842.60 37.00 L842.60 188.20" stroke="#000" stroke-width="6.00" fill="none" stroke-linejoin="round" stroke-linecap="butt"/><path d="M915.0 37 L920.5 112 Q922 133 941.2 137.3 L950 137.6" stroke="#000" stroke-width="2.4" fill="none"/><rect x="936" y="135.8" width="15" height="4" fill="#000"/><path d="M844 137.5 Q850 135 860 135.3 L901.5 135.5 Q905 136 909.2 138.6 L916.5 138.6 Q923 139 923.4 146 L923.4 198 Q923.6 202 927 202.3 L938.3 202.3 L945.5 196.0 L971.3 196.0" stroke="#000" stroke-width="2.6" fill="none"/><path d="M924.20 141.00 L924.20 175.00" stroke="#000" stroke-width="3.20" fill="none" stroke-linejoin="round"/><path d="M806.7 81 L806.7 193 Q806.7 202.3 815 202.3 L840.5 202.0 Q846 202.3 846 208" stroke="#000" stroke-width="5.4" fill="none"/><rect x="803.8" y="80.9" width="5.8" height="20" fill="#000"/><rect x="804.4" y="156.5" width="3.8" height="15.2" fill="#fff"/><path d="M894.6 173.5 L894.2 163 Q892.5 146.8 878 146.8 L859 146.8 Q849.5 146.8 849.5 157 L849.5 209 Q849.5 218.2 859 218.2 L879 218.2 Q888.2 218.2 888.2 209 L888.2 188 Q888.2 177 880 176.5" stroke="#000" stroke-width="5.6" fill="none" stroke-linejoin="round"/><path d="M849.8 176 Q851.5 190 862.5 190" stroke="#000" stroke-width="5.4" fill="none"/><path d="M856 166.6 L868 159.8 L880 166.6 L868 173.4 Z M856 199.3 L868 192.5 L880 199.3 L868 206.1 Z" fill="#000" stroke="#000" stroke-width="4.5" stroke-linejoin="round"/><path d="M868 163.8 L870.6 166.6 L868 169.4 L865.4 166.6 Z M868 196.5 L870.6 199.3 L868 202.1 L865.4 199.3 Z" fill="#fff"/><path d="M864.00 172.00 L873.50 192.00" stroke="#000" stroke-width="5.20" fill="none" stroke-linejoin="round"/><path d="M852.60 150.00 L852.60 214.00" stroke="#000" stroke-width="1.00" fill="none" stroke-linejoin="round"/><path d="M884.60 150.00 L884.60 214.00" stroke="#000" stroke-width="1.00" fill="none" stroke-linejoin="round"/><circle cx="857.5" cy="156.0" r="5.3" fill="#fff" stroke="#000" stroke-width="1.3"/><circle cx="879.1" cy="156.0" r="5.3" fill="#fff" stroke="#000" stroke-width="1.3"/><circle cx="857.5" cy="177.0" r="5.3" fill="#fff" stroke="#000" stroke-width="1.3"/><circle cx="879.1" cy="187.6" r="5.3" fill="#fff" stroke="#000" stroke-width="1.3"/><circle cx="857.5" cy="208.6" r="5.3" fill="#fff" stroke="#000" stroke-width="1.3"/><circle cx="879.1" cy="208.6" r="5.3" fill="#fff" stroke="#000" stroke-width="1.3"/><path d="M811 100.5 L811 120.9 L804 113.5 L804 107 Z" fill="#aaa" stroke="#000" stroke-width="0.8"/><path d="M760 110 Q762 106.5 770 106.5 L804 107.5 L804 113 L770 114.5 Q762 114 760 110 Z" fill="#aaa" stroke="#000" stroke-width="0.9"/><path d="M772.00 106.20 L774.50 114.60" stroke="#000" stroke-width="0.70" fill="none" stroke-linejoin="round"/><path d="M776.20 106.20 L778.70 114.60" stroke="#000" stroke-width="0.70" fill="none" stroke-linejoin="round"/><path d="M780.40 106.20 L782.90 114.60" stroke="#000" stroke-width="0.70" fill="none" stroke-linejoin="round"/><path d="M784.60 106.20 L787.10 114.60" stroke="#000" stroke-width="0.70" fill="none" stroke-linejoin="round"/><path d="M788.80 106.20 L791.30 114.60" stroke="#000" stroke-width="0.70" fill="none" stroke-linejoin="round"/><path d="M793.00 106.20 L795.50 114.60" stroke="#000" stroke-width="0.70" fill="none" stroke-linejoin="round"/><path d="M797.20 106.20 L799.70 114.60" stroke="#000" stroke-width="0.70" fill="none" stroke-linejoin="round"/><path d="M801.40 106.20 L803.90 114.60" stroke="#000" stroke-width="0.70" fill="none" stroke-linejoin="round"/><path d="M751.80 186.00 L802.20 186.00" stroke="#000" stroke-width="1.10" fill="none" stroke-linejoin="round"/><path d="M751.8 186 L763 182.5 L763 189.5 Z M802.2 186 L791 182.5 L791 189.5 Z" fill="#000"/><path d="M803.00 262.70 L843.00 262.70" stroke="#000" stroke-width="1.10" fill="none" stroke-linejoin="round"/><path d="M803 262.7 L814 259.2 L814 266.2 Z M843 262.7 L832 259.2 L832 266.2 Z" fill="#000"/><path d="M846.40 192.70 L846.40 268.00" stroke="#000" stroke-width="1.00" fill="none" stroke-linejoin="round"/><path d="M803.00 301.00 L965.80 301.00" stroke="#000" stroke-width="1.10" fill="none" stroke-linejoin="round"/><path d="M803 301 L817 297.2 L817 304.8 Z" fill="#000"/><text x="758.62" y="177.60" font-size="35.32" stroke="#000" stroke-width="0.45" textLength="36.96" lengthAdjust="spacingAndGlyphs" fill="#000">KD</text><text x="806.89" y="252.90" font-size="35.32" stroke="#000" stroke-width="0.45" textLength="34.37" lengthAdjust="spacingAndGlyphs" fill="#000">EB</text><text x="903.80" y="296.80" font-size="35.47" stroke="#000" stroke-width="0.45" textLength="32.82" lengthAdjust="spacingAndGlyphs" fill="#000">LB</text><rect x="1345.10" y="15.30" width="578.90" height="214.80" fill="#d9d9d9"/><rect x="1345.10" y="99.70" width="578.90" height="2.80" fill="#fff"/><rect x="1345.10" y="142.80" width="578.90" height="2.80" fill="#fff"/><rect x="1345.10" y="186.30" width="578.90" height="2.80" fill="#fff"/><rect x="1707.80" y="15.30" width="2.40" height="214.80" fill="#fff"/><rect x="1450.80" y="15.30" width="2.20" height="214.80" fill="#000"/><rect x="1345.10" y="56.60" width="578.90" height="2.80" fill="#000"/><text x="1470.87" y="47.70" font-size="32.85" font-weight="bold" textLength="18.71" lengthAdjust="spacingAndGlyphs" fill="#000">B</text><text x="1727.77" y="47.70" font-size="32.85" font-weight="bold" textLength="15.83" lengthAdjust="spacingAndGlyphs" fill="#000">L</text><text x="1362.65" y="92.00" font-size="34.59" stroke="#000" stroke-width="0.45" textLength="22.64" lengthAdjust="spacingAndGlyphs" fill="#000">IT</text><text x="1470.20" y="92.00" font-size="34.09" stroke="#000" stroke-width="0.45" textLength="206.43" lengthAdjust="spacingAndGlyphs" fill="#000">LB - 2 x EB - 31</text><text x="1727.02" y="92.00" font-size="34.09" stroke="#000" stroke-width="0.45" textLength="65.49" lengthAdjust="spacingAndGlyphs" fill="#000">NL-8</text><text x="1362.65" y="134.60" font-size="34.59" stroke="#000" stroke-width="0.45" textLength="39.60" lengthAdjust="spacingAndGlyphs" fill="#000">ITA</text><text x="1470.16" y="134.60" font-size="34.09" stroke="#000" stroke-width="0.45" textLength="209.53" lengthAdjust="spacingAndGlyphs" fill="#000">LB - 2 x EB - 37</text><text x="1727.02" y="134.60" font-size="34.09" stroke="#000" stroke-width="0.45" textLength="65.49" lengthAdjust="spacingAndGlyphs" fill="#000">NL-8</text><text x="1363.25" y="177.70" font-size="34.59" stroke="#000" stroke-width="0.45" textLength="30.70" lengthAdjust="spacingAndGlyphs" fill="#000">AT</text><text x="1470.16" y="177.70" font-size="34.09" stroke="#000" stroke-width="0.45" textLength="209.53" lengthAdjust="spacingAndGlyphs" fill="#000">LB - 2 x EB - 47</text><text x="1727.07" y="177.70" font-size="34.09" stroke="#000" stroke-width="0.45" textLength="80.83" lengthAdjust="spacingAndGlyphs" fill="#000">NL-27</text><text x="1363.25" y="221.50" font-size="34.59" stroke="#000" stroke-width="0.45" textLength="46.04" lengthAdjust="spacingAndGlyphs" fill="#000">AvT</text><text x="1470.12" y="221.50" font-size="34.09" stroke="#000" stroke-width="0.45" textLength="219.69" lengthAdjust="spacingAndGlyphs" fill="#000">NB - 2 x KD - 42</text><text x="1727.07" y="221.50" font-size="34.09" stroke="#000" stroke-width="0.45" textLength="80.83" lengthAdjust="spacingAndGlyphs" fill="#000">NL-27</text><path d="M1123.71 483.58 L1456.96 272.65" stroke="#000" stroke-width="1.15" stroke-dasharray="9.6 5.4" fill="none"/><path d="M1456.96 272.65 L1815.03 487.07" stroke="#000" stroke-width="1.15" stroke-dasharray="9.6 5.4" fill="none"/><path d="M1488.86 698.37 L1815.03 487.07" stroke="#000" stroke-width="1.15" stroke-dasharray="9.6 5.4" fill="none"/><path d="M1123.71 483.58 L1488.86 698.37" stroke="#000" stroke-width="1.15" stroke-dasharray="9.6 5.4" fill="none"/><path d="M1158.90 481.60 L1134.98 467.52" stroke="#000" stroke-width="1.15" stroke-dasharray="9.6 5.4" fill="none"/><path d="M1158.90 481.60 L1133.15 497.91" stroke="#000" stroke-width="1.15" stroke-dasharray="9.6 5.4" fill="none"/><path d="M1458.30 291.90 L1434.80 277.84" stroke="#000" stroke-width="1.15" stroke-dasharray="9.6 5.4" fill="none"/><path d="M1458.30 291.90 L1483.45 275.97" stroke="#000" stroke-width="1.15" stroke-dasharray="9.6 5.4" fill="none"/><path d="M1491.10 677.20 L1513.69 690.50" stroke="#000" stroke-width="1.15" stroke-dasharray="9.6 5.4" fill="none"/><path d="M1491.10 677.20 L1465.85 693.54" stroke="#000" stroke-width="1.15" stroke-dasharray="9.6 5.4" fill="none"/><path d="M1784.70 487.20 L1806.90 500.48" stroke="#000" stroke-width="1.15" stroke-dasharray="9.6 5.4" fill="none"/><path d="M1784.70 487.20 L1809.36 471.24" stroke="#000" stroke-width="1.15" stroke-dasharray="9.6 5.4" fill="none"/><path d="M1158.90 481.60 L1491.10 677.20 L1784.70 487.20 L1458.30 291.90 Z" fill="#c8c8c8" stroke="#000" stroke-width="1.3"/><path d="M1162.76 482.41 L1492.27 676.44 M1492.12 674.90 L1783.39 486.42" fill="none" stroke="#000" stroke-width="0.7"/><path d="M1192.12 486.53 L1479.61 655.91 Q1487.57 660.60 1494.63 656.04 L1747.94 492.28 Q1754.99 487.72 1747.15 483.03 L1464.24 313.89 Q1456.40 309.20 1449.22 313.75 L1191.33 477.28 Q1184.15 481.84 1192.12 486.53 Z" fill="none" stroke="#000" stroke-width="1.2"/><path d="M1461.14 314.24 L1748.65 486.12" fill="none" stroke="#000" stroke-width="1.6"/><path d="M1200.55 489.30 L1271.26 530.96 Q1283.87 538.40 1295.17 531.18 L1538.49 375.93 Q1549.80 368.71 1537.38 361.29 L1467.78 319.69 Q1455.37 312.27 1444.00 319.48 L1199.31 474.66 Q1187.94 481.87 1200.55 489.30 Z" fill="none" stroke="#000" stroke-width="1.25"/><path d="M1203.91 487.99 L1273.27 528.86 Q1283.56 534.93 1292.78 529.04 L1534.96 374.55 Q1544.18 368.66 1534.05 362.61 L1465.75 321.79 Q1455.62 315.73 1446.34 321.61 L1202.89 476.04 Q1193.62 481.92 1203.91 487.99 Z" fill="none" stroke="#000" stroke-width="0.8"/><path d="M1436.37 324.27 L1441.37 356.27 Q1442.37 367.27 1452.37 367.27 Q1462.37 367.27 1463.37 356.27 L1468.37 324.27 M1440.87 354.27 Q1452.37 348.27 1463.87 354.27 M1436.37 325.27 Q1452.37 317.27 1468.37 325.27 M1441.37 355.27 L1220.22 495.77 M1452.37 367.27 L1235.84 504.97 M1452.37 367.27 L1499.97 395.65 M1213.52 471.33 Q1204.35 482.02 1215.36 492.91" fill="none" stroke="#000" stroke-width="0.8"/><path d="M1309.29 551.91 L1476.57 650.49 Q1489.18 657.92 1500.35 650.70 L1513.28 642.34 Q1524.45 635.12 1511.87 627.69 L1344.93 529.13 Q1332.35 521.70 1321.05 528.92 L1307.97 537.27 Q1296.68 544.48 1309.29 551.91 Z" fill="none" stroke="#000" stroke-width="1.25"/><path d="M1312.63 550.60 L1478.56 648.39 Q1488.84 654.45 1497.95 648.56 L1509.71 640.96 Q1518.82 635.07 1508.56 629.01 L1342.92 531.23 Q1332.65 525.17 1323.44 531.06 L1311.55 538.65 Q1302.34 544.53 1312.63 550.60 Z" fill="none" stroke="#000" stroke-width="0.8"/><path d="M1313.35 533.70 L1318.35 565.70 Q1319.35 576.70 1329.35 576.70 Q1339.35 576.70 1340.35 565.70 L1345.35 533.70 M1317.85 563.70 Q1329.35 557.70 1340.85 563.70 M1313.35 534.70 Q1329.35 526.70 1345.35 534.70 M1340.35 564.70 L1488.98 652.31 M1329.35 576.70 L1474.08 661.94 M1329.35 576.70 L1343.45 567.67 M1470.07 641.57 Q1488.20 647.90 1505.12 641.88" fill="none" stroke="#000" stroke-width="0.8"/><path d="M1357.41 521.16 L1524.22 619.71 Q1536.79 627.14 1547.96 619.92 L1563.24 610.04 Q1574.41 602.83 1561.86 595.40 L1395.43 496.87 Q1382.88 489.44 1371.58 496.65 L1356.13 506.52 Q1344.83 513.73 1357.41 521.16 Z" fill="none" stroke="#000" stroke-width="1.25"/><path d="M1360.74 519.85 L1526.20 617.61 Q1536.46 623.67 1545.57 617.78 L1559.68 608.66 Q1568.80 602.78 1558.56 596.71 L1393.42 498.96 Q1383.18 492.90 1373.96 498.79 L1359.70 507.90 Q1350.49 513.78 1360.74 519.85 Z" fill="none" stroke="#000" stroke-width="0.8"/><path d="M1363.88 501.44 L1368.88 533.44 Q1369.88 544.44 1379.88 544.44 Q1389.88 544.44 1390.88 533.44 L1395.88 501.44 M1368.38 531.44 Q1379.88 525.44 1391.38 531.44 M1363.88 502.44 Q1379.88 494.44 1395.88 502.44 M1390.88 532.44 L1539.01 619.98 M1379.88 544.44 L1524.11 629.61 M1379.88 544.44 L1391.56 536.96 M1517.75 610.80 Q1535.83 617.12 1552.74 611.11" fill="none" stroke="#000" stroke-width="0.8"/><path d="M1404.18 489.24 L1435.86 508.01 Q1448.40 515.44 1459.66 508.22 L1604.54 415.38 Q1615.80 408.17 1603.38 400.75 L1572.02 382.00 Q1559.60 374.57 1548.30 381.79 L1402.93 474.60 Q1391.63 481.82 1404.18 489.24 Z" fill="none" stroke="#000" stroke-width="1.25"/><path d="M1407.51 487.93 L1437.87 505.91 Q1448.10 511.97 1457.28 506.09 L1601.01 414.00 Q1610.19 408.12 1600.06 402.06 L1570.00 384.09 Q1559.86 378.04 1550.65 383.92 L1406.49 475.98 Q1397.28 481.87 1407.51 487.93 Z" fill="none" stroke="#000" stroke-width="0.8"/><path d="M1540.60 386.57 L1545.60 418.57 Q1546.60 429.57 1556.60 429.57 Q1566.60 429.57 1567.60 418.57 L1572.60 386.57 M1545.10 416.57 Q1556.60 410.57 1568.10 416.57 M1540.60 387.57 Q1556.60 379.57 1572.60 387.57 M1545.60 417.57 L1423.58 495.62 M1556.60 429.57 L1439.09 504.81 M1556.60 429.57 L1566.03 435.20 M1417.06 471.27 Q1407.94 481.96 1418.89 492.84" fill="none" stroke="#000" stroke-width="0.8"/><path d="M1471.83 529.32 L1504.50 548.67 Q1517.04 556.10 1528.26 548.88 L1672.55 456.01 Q1683.76 448.79 1671.35 441.37 L1639.00 422.04 Q1626.58 414.61 1615.33 421.83 L1470.54 514.68 Q1459.29 521.89 1471.83 529.32 Z" fill="none" stroke="#000" stroke-width="1.25"/><path d="M1475.15 528.00 L1506.50 546.57 Q1516.73 552.63 1525.88 546.74 L1669.02 454.63 Q1678.17 448.75 1668.04 442.69 L1636.99 424.13 Q1626.86 418.08 1617.68 423.97 L1474.10 516.05 Q1464.92 521.94 1475.15 528.00 Z" fill="none" stroke="#000" stroke-width="0.8"/><path d="M1607.58 426.61 L1612.58 458.61 Q1613.58 469.61 1623.58 469.61 Q1633.58 469.61 1634.58 458.61 L1639.58 426.61 M1612.08 456.61 Q1623.58 450.61 1635.08 456.61 M1607.58 427.61 Q1623.58 419.61 1639.58 427.61 M1612.58 457.61 L1491.12 535.64 M1623.58 469.61 L1506.62 544.82 M1623.58 469.61 L1634.10 475.88 M1484.63 511.34 Q1475.56 522.04 1486.53 532.92" fill="none" stroke="#000" stroke-width="0.8"/><path d="M1540.15 569.78 L1572.16 588.75 Q1584.70 596.18 1595.87 588.96 L1739.58 496.05 Q1750.75 488.83 1738.33 481.41 L1706.64 462.47 Q1694.22 455.04 1683.01 462.26 L1538.81 555.14 Q1527.60 562.36 1540.15 569.78 Z" fill="none" stroke="#000" stroke-width="1.25"/><path d="M1543.46 568.47 L1574.14 586.65 Q1584.37 592.71 1593.49 586.82 L1736.05 494.68 Q1745.16 488.79 1735.03 482.73 L1704.64 464.57 Q1694.51 458.51 1685.37 464.40 L1542.37 556.52 Q1533.23 562.41 1543.46 568.47 Z" fill="none" stroke="#000" stroke-width="0.8"/><path d="M1675.22 467.04 L1680.22 499.04 Q1681.22 510.04 1691.22 510.04 Q1701.22 510.04 1702.22 499.04 L1707.22 467.04 M1679.72 497.04 Q1691.22 491.04 1702.72 497.04 M1675.22 468.04 Q1691.22 460.04 1707.22 468.04 M1680.22 498.04 L1559.33 576.05 M1691.22 510.04 L1574.82 585.22 M1691.22 510.04 L1701.19 515.99 M1552.86 551.80 Q1543.85 562.50 1554.83 573.38" fill="none" stroke="#000" stroke-width="0.8"/><path d="M1846.80 416.40 L1859.87 411.31 L1859.56 417.90 L1862.30 418.63 L1876.27 417.42 L1874.12 423.66 L1876.54 425.13 L1890.29 427.91 L1886.46 433.29 L1888.37 435.38 L1900.78 441.93 L1895.59 446.01 L1896.83 448.55 L1906.89 458.33 L1900.77 460.79 L1901.24 463.57 L1908.14 475.79 L1901.57 476.42 L1901.24 479.23 L1904.42 492.89 L1897.94 491.65 L1896.83 494.25 L1896.03 508.26 L1890.16 505.23 L1888.37 507.42 L1883.66 520.63 L1878.87 516.08 L1876.54 517.67 L1868.29 529.02 L1864.99 523.31 L1862.30 524.17 L1851.19 532.74 L1849.63 526.33 L1846.80 526.40 L1833.73 531.49 L1834.04 524.90 L1831.30 524.17 L1817.33 525.38 L1819.48 519.14 L1817.06 517.67 L1803.31 514.89 L1807.14 509.51 L1805.23 507.42 L1792.82 500.87 L1798.01 496.79 L1796.77 494.25 L1786.71 484.47 L1792.83 482.01 L1792.36 479.23 L1785.46 467.01 L1792.03 466.38 L1792.36 463.57 L1789.18 449.91 L1795.66 451.15 L1796.77 448.55 L1797.57 434.54 L1803.44 437.57 L1805.23 435.38 L1809.94 422.17 L1814.73 426.72 L1817.06 425.13 L1825.31 413.78 L1828.61 419.49 L1831.30 418.63 L1842.41 410.06 L1843.97 416.47 Z" fill="#d9d9d9" stroke="#000" stroke-width="1.0" stroke-linejoin="miter"/><circle cx="1846.80" cy="471.40" r="8.5" fill="#fff" stroke="#000" stroke-width="1.2"/><path d="M1115.60 450.60 L1414.50 265.60" stroke="#000" stroke-width="1.20" fill="none" stroke-linejoin="round"/><path d="M1115.60 450.60 L1128.55 446.82 L1124.76 440.70 Z" fill="#000"/><path d="M1414.50 265.60 L1401.55 269.38 L1405.34 275.50 Z" fill="#000"/><path d="M1106.00 445.60 L1136.00 464.80" stroke="#000" stroke-width="1.20" fill="none" stroke-linejoin="round"/><path d="M1407.70 258.50 L1440.10 279.00" stroke="#000" stroke-width="1.20" fill="none" stroke-linejoin="round"/><path d="M1110.40 514.00 L1440.60 705.50" stroke="#000" stroke-width="1.20" fill="none" stroke-linejoin="round"/><path d="M1110.40 514.00 L1119.84 523.64 L1123.45 517.41 Z" fill="#000"/><path d="M1440.60 705.50 L1431.16 695.86 L1427.55 702.09 Z" fill="#000"/><path d="M1101.20 518.40 L1136.00 497.60" stroke="#000" stroke-width="1.20" fill="none" stroke-linejoin="round"/><path d="M1427.90 714.70 L1465.40 692.00" stroke="#000" stroke-width="1.20" fill="none" stroke-linejoin="round"/><text x="1250.03" y="354.50" font-size="42.01" stroke="#000" stroke-width="0.45" textLength="16.78" lengthAdjust="spacingAndGlyphs" fill="#000">L</text><text x="1238.78" y="631.60" font-size="41.86" stroke="#000" stroke-width="0.45" textLength="21.30" lengthAdjust="spacingAndGlyphs" fill="#000">B</text><defs><linearGradient id="gL1" gradientUnits="userSpaceOnUse" x1="2040.0" y1="330.0" x2="2080.0" y2="400.0"><stop offset="0.00" stop-color="#f4f4f4"/><stop offset="1.00" stop-color="#c4c4c4"/></linearGradient><linearGradient id="gL2" gradientUnits="userSpaceOnUse" x1="2060.0" y1="340.0" x2="2110.0" y2="420.0"><stop offset="0.00" stop-color="#d8d8d8"/><stop offset="1.00" stop-color="#8c8c8c"/></linearGradient><linearGradient id="gR1" gradientUnits="userSpaceOnUse" x1="2500.0" y1="470.0" x2="2520.0" y2="500.0"><stop offset="0.00" stop-color="#f2f2f2"/><stop offset="1.00" stop-color="#cfcfcf"/></linearGradient><linearGradient id="gR2" gradientUnits="userSpaceOnUse" x1="2470.0" y1="490.0" x2="2500.0" y2="545.0"><stop offset="0.00" stop-color="#d4d4d4"/><stop offset="1.00" stop-color="#8a8a8a"/></linearGradient><linearGradient id="gB" gradientUnits="userSpaceOnUse" x1="2550.0" y1="340.0" x2="2600.0" y2="410.0"><stop offset="0.00" stop-color="#cfcfcf"/><stop offset="1.00" stop-color="#858585"/></linearGradient></defs><path d="M1999.50 360.30 L2180.00 256.00 L2200.00 275.50 L2026.70 375.70 Z" fill="url(#gL1)" stroke="#000" stroke-width="0.00" stroke-linejoin="round"/><path d="M2026.70 375.70 L2200.00 275.50 L2230.00 304.00 L2065.00 399.20 Z" fill="url(#gL2)" stroke="#000" stroke-width="0.00" stroke-linejoin="round"/><path d="M1999.50 360.30 L2180.00 256.00" stroke="#000" stroke-width="1.20" fill="none" stroke-linejoin="round"/><path d="M2009.40 365.80 L2190.00 262.00" stroke="#000" stroke-width="1.20" fill="none" stroke-linejoin="round"/><path d="M2026.70 375.70 L2200.00 275.50" stroke="#000" stroke-width="1.20" fill="none" stroke-linejoin="round"/><path d="M2065.00 399.20 L2230.00 304.00" stroke="#000" stroke-width="1.20" fill="none" stroke-linejoin="round"/><path d="M2564.70 324.80 L2661.30 378.70 L2650.30 385.60 L2556.40 331.70 Z" fill="#dedede" stroke="#000" stroke-width="0.00" stroke-linejoin="round"/><path d="M2556.40 331.70 L2650.30 385.60 L2602.00 411.80 L2512.20 359.40 Z" fill="url(#gB)" stroke="#000" stroke-width="0.00" stroke-linejoin="round"/><path d="M2564.70 324.80 L2661.30 378.70" stroke="#000" stroke-width="1.20" fill="none" stroke-linejoin="round"/><path d="M2556.40 331.70 L2650.30 385.60" stroke="#000" stroke-width="1.10" fill="none" stroke-linejoin="round"/><path d="M2512.20 359.40 L2602.00 411.80" stroke="#000" stroke-width="1.20" fill="none" stroke-linejoin="round"/><path d="M2650.30 385.60 L2602.00 411.80" stroke="#000" stroke-width="1.10" fill="none" stroke-linejoin="round"/><path d="M2650.00 384.50 L2662.00 377.50" stroke="#000" stroke-width="2.20" fill="none" stroke-linejoin="round"/><path d="M2345.30 560.10 L2661.30 378.70 L2671.00 382.80 L2673.70 393.90 L2355.60 576.50 L2355.40 566.40 Z" fill="url(#gR1)" stroke="#000" stroke-width="0.00" stroke-linejoin="round"/><path d="M2355.60 576.50 L2673.70 393.90 L2674.60 446.30 L2355.80 629.30 Z" fill="url(#gR2)" stroke="#000" stroke-width="0.00" stroke-linejoin="round"/><path d="M2345.30 560.10 L2661.30 378.70" stroke="#000" stroke-width="1.20" fill="none" stroke-linejoin="round"/><path d="M2355.40 566.40 L2664.00 388.30" stroke="#000" stroke-width="1.20" fill="none" stroke-linejoin="round"/><path d="M2355.60 576.50 L2673.70 393.90" stroke="#000" stroke-width="1.20" fill="none" stroke-linejoin="round"/><path d="M2355.80 629.30 L2674.60 446.30" stroke="#000" stroke-width="1.20" fill="none" stroke-linejoin="round"/><path d="M2661.3 378.7 Q2672 383 2674.6 393.9 L2674.6 446.3" stroke="#000" stroke-width="1.2" fill="none"/><path d="M2356.40 581.60 L2392.40 561.30 L2392.40 581.00 L2356.40 601.40 Z" fill="#a6a6a6" stroke="#000" stroke-width="1.10" stroke-linejoin="round"/><path d="M1973.60 362.70 L1987.40 355.10 L2355.20 566.50 L2343.60 572.30 Z" fill="#fff" stroke="#000" stroke-width="1.20" stroke-linejoin="round"/><path d="M1973.60 362.70 L2343.60 572.30 L2343.60 660.10 L1973.60 449.80 Z" fill="#fff" stroke="#000" stroke-width="1.20" stroke-linejoin="round"/><path d="M2343.60 572.30 L2355.20 566.50 L2355.60 654.30 L2343.60 660.10 Z" fill="#fff" stroke="#000" stroke-width="1.20" stroke-linejoin="round"/><path d="M2130.2 361.9 L2146.3 361.9 L2146.3 404.7 L2163 404.7 L2137.6 430 L2112.5 404.7 L2130.2 404.7 Z" fill="#000"/><path d="M2021.30 269.30 L2349.60 463.60 L2645.60 275.60 L2645.60 279.10 L2349.60 467.10 L2021.30 272.80 Z" fill="#c8c8c8" stroke="#000" stroke-width="1.10" stroke-linejoin="round"/><path d="M2021.30 269.30 L2349.60 463.60 L2645.60 275.60 L2317.30 81.30 Z" fill="#c8c8c8" stroke="#000" stroke-width="1.3"/><path d="M2025.11 270.10 L2350.78 462.85 M2350.65 461.32 L2644.29 274.82" fill="none" stroke="#000" stroke-width="0.7"/><path d="M2054.15 274.22 L2338.46 442.48 Q2346.34 447.14 2353.44 442.63 L2608.59 280.57 Q2615.70 276.06 2607.82 271.40 L2323.51 103.14 Q2315.63 98.47 2308.53 102.98 L2053.38 265.04 Q2046.27 269.55 2054.15 274.22 Z" fill="none" stroke="#000" stroke-width="1.2"/><path d="M2320.42 103.49 L2609.33 274.47" fill="none" stroke="#000" stroke-width="1.6"/><path d="M2062.49 276.97 L2132.42 318.36 Q2144.90 325.74 2156.14 318.60 L2398.27 164.81 Q2409.52 157.67 2397.05 150.29 L2327.12 108.90 Q2314.64 101.52 2303.39 108.66 L2061.27 262.45 Q2050.02 269.59 2062.49 276.97 Z" fill="none" stroke="#000" stroke-width="1.25"/><path d="M2065.81 275.67 L2134.43 316.28 Q2144.61 322.30 2153.78 316.47 L2394.73 163.44 Q2403.90 157.61 2393.72 151.59 L2325.11 110.98 Q2314.93 104.96 2305.76 110.79 L2064.81 263.82 Q2055.64 269.65 2065.81 275.67 Z" fill="none" stroke="#000" stroke-width="0.8"/><path d="M2295.64 113.52 L2300.64 145.52 Q2301.64 156.52 2311.64 156.52 Q2321.64 156.52 2322.64 145.52 L2327.64 113.52 M2300.14 143.52 Q2311.64 137.52 2323.14 143.52 M2295.64 114.52 Q2311.64 106.52 2327.64 114.52 M2300.64 144.52 L2081.96 283.41 M2311.64 156.52 L2097.43 292.57 M2311.64 156.52 L2359.31 184.73 M2075.33 259.15 Q2066.25 269.75 2077.14 280.56" fill="none" stroke="#000" stroke-width="0.8"/><path d="M2170.05 339.17 L2335.51 437.10 Q2347.99 444.49 2359.23 437.34 L2372.26 429.07 Q2383.51 421.93 2371.03 414.54 L2205.57 316.61 Q2193.09 309.23 2181.84 316.38 L2168.82 324.65 Q2157.57 331.79 2170.05 339.17 Z" fill="none" stroke="#000" stroke-width="1.25"/><path d="M2173.37 337.87 L2337.52 435.02 Q2347.69 441.04 2356.87 435.22 L2368.71 427.70 Q2377.89 421.87 2367.71 415.85 L2203.56 318.70 Q2193.38 312.67 2184.21 318.50 L2172.37 326.02 Q2163.19 331.85 2173.37 337.87 Z" fill="none" stroke="#000" stroke-width="0.8"/><path d="M2174.09 321.23 L2179.09 353.23 Q2180.09 364.23 2190.09 364.23 Q2200.09 364.23 2201.09 353.23 L2206.09 321.23 M2178.59 351.23 Q2190.09 345.23 2201.59 351.23 M2174.09 322.23 Q2190.09 314.23 2206.09 322.23 M2201.09 352.23 L2347.72 439.01 M2190.09 364.23 L2332.64 448.59 M2190.09 364.23 L2204.40 355.15 M2329.15 428.25 Q2347.15 434.55 2364.11 428.60" fill="none" stroke="#000" stroke-width="0.8"/><path d="M2218.00 308.72 L2383.46 406.65 Q2395.94 414.03 2407.18 406.88 L2422.58 397.11 Q2433.82 389.96 2421.35 382.58 L2255.89 284.65 Q2243.41 277.27 2232.16 284.42 L2216.77 294.19 Q2205.52 301.34 2218.00 308.72 Z" fill="none" stroke="#000" stroke-width="1.25"/><path d="M2221.32 307.42 L2385.47 404.57 Q2395.65 410.59 2404.82 404.76 L2419.03 395.74 Q2428.21 389.91 2418.03 383.89 L2253.88 286.74 Q2243.70 280.71 2234.53 286.54 L2220.32 295.56 Q2211.14 301.39 2221.32 307.42 Z" fill="none" stroke="#000" stroke-width="0.8"/><path d="M2224.41 289.27 L2229.41 321.27 Q2230.41 332.27 2240.41 332.27 Q2250.41 332.27 2251.41 321.27 L2256.41 289.27 M2228.91 319.27 Q2240.41 313.27 2251.91 319.27 M2224.41 290.27 Q2240.41 282.27 2256.41 290.27 M2251.41 320.27 L2398.04 407.05 M2240.41 332.27 L2382.96 416.63 M2240.41 332.27 L2252.35 324.69 M2377.10 397.80 Q2395.10 404.09 2412.06 398.15" fill="none" stroke="#000" stroke-width="0.8"/><path d="M2264.60 277.10 L2296.12 295.76 Q2308.60 303.14 2319.85 296.00 L2464.59 204.06 Q2475.84 196.92 2463.36 189.54 L2431.84 170.88 Q2419.37 163.50 2408.12 170.64 L2263.38 262.58 Q2252.13 269.72 2264.60 277.10 Z" fill="none" stroke="#000" stroke-width="1.25"/><path d="M2267.93 275.80 L2298.13 293.68 Q2308.31 299.70 2317.48 293.87 L2461.04 202.69 Q2470.22 196.86 2460.04 190.84 L2429.84 172.96 Q2419.66 166.94 2410.48 172.77 L2266.92 263.95 Q2257.75 269.78 2267.93 275.80 Z" fill="none" stroke="#000" stroke-width="0.8"/><path d="M2400.37 175.50 L2405.37 207.50 Q2406.37 218.50 2416.37 218.50 Q2426.37 218.50 2427.37 207.50 L2432.37 175.50 M2404.87 205.50 Q2416.37 199.50 2427.87 205.50 M2400.37 176.50 Q2416.37 168.50 2432.37 176.50 M2405.37 206.50 L2284.07 283.54 M2416.37 218.50 L2299.55 292.70 M2416.37 218.50 L2425.62 223.98 M2277.45 259.28 Q2268.36 269.88 2279.25 280.69" fill="none" stroke="#000" stroke-width="0.8"/><path d="M2331.91 316.93 L2364.41 336.17 Q2376.88 343.55 2388.13 336.41 L2532.88 244.48 Q2544.12 237.33 2531.65 229.95 L2499.15 210.71 Q2486.67 203.33 2475.42 210.47 L2330.68 302.41 Q2319.43 309.55 2331.91 316.93 Z" fill="none" stroke="#000" stroke-width="1.25"/><path d="M2335.23 315.63 L2366.42 334.09 Q2376.59 340.11 2385.77 334.28 L2529.33 243.10 Q2538.50 237.28 2528.33 231.25 L2497.14 212.80 Q2486.96 206.77 2477.79 212.60 L2334.23 303.78 Q2325.05 309.61 2335.23 315.63 Z" fill="none" stroke="#000" stroke-width="0.8"/><path d="M2467.67 215.33 L2472.67 247.33 Q2473.67 258.33 2483.67 258.33 Q2493.67 258.33 2494.67 247.33 L2499.67 215.33 M2472.17 245.33 Q2483.67 239.33 2495.17 245.33 M2467.67 216.33 Q2483.67 208.33 2499.67 216.33 M2472.67 246.33 L2351.37 323.37 M2483.67 258.33 L2366.85 332.53 M2483.67 258.33 L2493.91 264.39 M2344.75 299.11 Q2335.66 309.71 2346.56 320.52" fill="none" stroke="#000" stroke-width="0.8"/><path d="M2399.86 357.15 L2431.71 376.00 Q2444.19 383.39 2455.43 376.24 L2600.18 284.31 Q2611.43 277.17 2598.95 269.78 L2567.10 250.93 Q2554.63 243.55 2543.38 250.70 L2398.64 342.63 Q2387.39 349.77 2399.86 357.15 Z" fill="none" stroke="#000" stroke-width="1.25"/><path d="M2403.19 355.85 L2433.72 373.92 Q2443.89 379.94 2453.07 374.12 L2596.63 282.94 Q2605.81 277.11 2595.63 271.09 L2565.10 253.02 Q2554.92 246.99 2545.74 252.82 L2402.18 344.00 Q2393.01 349.83 2403.19 355.85 Z" fill="none" stroke="#000" stroke-width="0.8"/><path d="M2535.63 255.55 L2540.63 287.55 Q2541.63 298.55 2551.63 298.55 Q2561.63 298.55 2562.63 287.55 L2567.63 255.55 M2540.13 285.55 Q2551.63 279.55 2563.13 285.55 M2535.63 256.55 Q2551.63 248.55 2567.63 256.55 M2540.63 286.55 L2419.33 363.59 M2551.63 298.55 L2434.81 372.75 M2551.63 298.55 L2561.21 304.22 M2412.71 339.33 Q2403.62 349.93 2414.51 360.74" fill="none" stroke="#000" stroke-width="0.8"/><path d="M2148.20 925.30L2157.40 925.30M2150.50 921.32L2155.10 929.28M2155.10 921.32L2150.50 929.28" stroke="#000" stroke-width="2.40" fill="none"/><path d="M2175.3 903.6 Q2180.5 903 2182 908 L2190.5 936.7 L2211.7 936.7" stroke="#000" stroke-width="1.70" fill="none" stroke-linejoin="round" stroke-linecap="round"/><path d="M2182.9 910.1 L2218.3 910.1 L2212.3 928.6 L2186.8 928.6 Z" fill="#000"/><rect x="2184.50" y="911.60" width="4.20" height="2.60" fill="#fff"/><rect x="2185.40" y="915.90" width="4.00" height="2.60" fill="#fff"/><rect x="2186.30" y="920.20" width="3.80" height="2.60" fill="#fff"/><rect x="2187.20" y="924.50" width="3.60" height="2.60" fill="#fff"/><rect x="2190.90" y="911.60" width="4.20" height="2.60" fill="#fff"/><rect x="2191.58" y="915.90" width="4.00" height="2.60" fill="#fff"/><rect x="2192.26" y="920.20" width="3.80" height="2.60" fill="#fff"/><rect x="2192.94" y="924.50" width="3.60" height="2.60" fill="#fff"/><rect x="2197.30" y="911.60" width="4.20" height="2.60" fill="#fff"/><rect x="2197.76" y="915.90" width="4.00" height="2.60" fill="#fff"/><rect x="2198.22" y="920.20" width="3.80" height="2.60" fill="#fff"/><rect x="2198.68" y="924.50" width="3.60" height="2.60" fill="#fff"/><rect x="2203.70" y="911.60" width="4.20" height="2.60" fill="#fff"/><rect x="2203.94" y="915.90" width="4.00" height="2.60" fill="#fff"/><rect x="2204.18" y="920.20" width="3.80" height="2.60" fill="#fff"/><rect x="2204.42" y="924.50" width="3.60" height="2.60" fill="#fff"/><rect x="2210.10" y="911.60" width="4.20" height="2.60" fill="#fff"/><rect x="2210.12" y="915.90" width="4.00" height="2.60" fill="#fff"/><rect x="2210.14" y="920.20" width="3.80" height="2.60" fill="#fff"/><rect x="2210.16" y="924.50" width="3.60" height="2.60" fill="#fff"/><circle cx="2190.9" cy="942.2" r="2.3" fill="none" stroke="#000" stroke-width="1.4"/><circle cx="2209.6" cy="942.2" r="2.3" fill="none" stroke="#000" stroke-width="1.4"/><path d="M2243.30 928.60 L2289.00 954.40 M2243.3 928.6 Q2238 932 2239.8 938.5 M2238.60 941.50 L2274.80 968.80 M2236.7 943.8 Q2235.5 947 2240 950 L2271 968 Q2276 971 2281 968.5 L2410.7 890 M2289.0 954.4 Q2291 958 2289.5 961 M2253.60 932.90 L2282.90 916.10 L2292.20 896.00 L2368.30 852.00 M2368.3 852 Q2375 849.5 2380 852.5 L2410 869.5 Q2415 873 2413.4 878 L2410.7 890 M2282.90 916.10 L2324.80 940.50 L2337.30 922.10 L2410.70 879.50 M2324.80 940.50 L2409.60 891.10 M2292.20 896.00 L2297.60 899.20 L2309.60 905.80 L2320.40 911.70 L2331.30 917.70 L2337.30 922.10" stroke="#000" stroke-width="1.60" fill="none" stroke-linejoin="round" stroke-linecap="round"/><path d="M2297.60 899.20 L2378.00 853.60 M2309.60 905.80 L2388.90 859.60 M2320.40 911.70 L2399.80 866.10 M2331.30 917.70 L2410.70 872.10" stroke="#000" stroke-width="2.40" fill="none" stroke-linejoin="round" stroke-linecap="round"/><path d="M2287.80 917.70 L2297.60 900.30 M2298.70 923.70 L2309.00 906.30 M2310.10 930.20 L2319.90 912.30 M2320.90 936.20 L2331.30 918.30" stroke="#000" stroke-width="2.30" fill="none" stroke-linejoin="round" stroke-linecap="round"/><path d="M2241.50 935.50 L2283.50 959.50" stroke="#000" stroke-width="0.80" fill="none" stroke-linejoin="round" stroke-linecap="round"/><path d="M2367 934.6 L2499 858 Q2504.4 854 2510 857.5 L2548 879 Q2553 882.5 2549.5 886.5 L2414 963.5 Q2408.1 967 2402 963.5 L2364.5 942 Q2359 938.5 2363 935 Z M2368.5 946.9 L2372 951 L2398 966 Q2408 971 2417 967.5 L2544.7 892.1 Q2547 890 2546.5 886" stroke="#000" stroke-width="1.60" fill="none" stroke-linejoin="round" stroke-linecap="round"/><path d="M2418.00 965.50 L2545.50 890.50" stroke="#000" stroke-width="0.90" fill="none" stroke-linejoin="round" stroke-linecap="round"/><ellipse cx="2402.80" cy="928.40" rx="14.0" ry="8.6" fill="none" stroke="#000" stroke-width="1.5"/><path d="M2390.30 932.90 Q2402.80 923.90 2415.30 932.90" stroke="#000" stroke-width="1.30" fill="none" stroke-linejoin="round" stroke-linecap="round"/><ellipse cx="2427.90" cy="913.90" rx="14.0" ry="8.6" fill="none" stroke="#000" stroke-width="1.5"/><path d="M2415.40 918.40 Q2427.90 909.40 2440.40 918.40" stroke="#000" stroke-width="1.30" fill="none" stroke-linejoin="round" stroke-linecap="round"/><ellipse cx="2453.00" cy="900.10" rx="14.0" ry="8.6" fill="none" stroke="#000" stroke-width="1.5"/><path d="M2440.50 904.60 Q2453.00 895.60 2465.50 904.60" stroke="#000" stroke-width="1.30" fill="none" stroke-linejoin="round" stroke-linecap="round"/><ellipse cx="2477.40" cy="885.50" rx="14.0" ry="8.6" fill="none" stroke="#000" stroke-width="1.5"/><path d="M2464.90 890.00 Q2477.40 881.00 2489.90 890.00" stroke="#000" stroke-width="1.30" fill="none" stroke-linejoin="round" stroke-linecap="round"/><ellipse cx="2501.80" cy="871.00" rx="14.0" ry="8.6" fill="none" stroke="#000" stroke-width="1.5"/><path d="M2489.30 875.50 Q2501.80 866.50 2514.30 875.50" stroke="#000" stroke-width="1.30" fill="none" stroke-linejoin="round" stroke-linecap="round"/><ellipse cx="2410.10" cy="946.90" rx="14.0" ry="8.6" fill="none" stroke="#000" stroke-width="1.5"/><path d="M2397.60 951.40 Q2410.10 942.40 2422.60 951.40" stroke="#000" stroke-width="1.30" fill="none" stroke-linejoin="round" stroke-linecap="round"/><ellipse cx="2434.50" cy="932.40" rx="14.0" ry="8.6" fill="none" stroke="#000" stroke-width="1.5"/><path d="M2422.00 936.90 Q2434.50 927.90 2447.00 936.90" stroke="#000" stroke-width="1.30" fill="none" stroke-linejoin="round" stroke-linecap="round"/><ellipse cx="2459.60" cy="918.50" rx="14.0" ry="8.6" fill="none" stroke="#000" stroke-width="1.5"/><path d="M2447.10 923.00 Q2459.60 914.00 2472.10 923.00" stroke="#000" stroke-width="1.30" fill="none" stroke-linejoin="round" stroke-linecap="round"/><ellipse cx="2484.60" cy="904.00" rx="14.0" ry="8.6" fill="none" stroke="#000" stroke-width="1.5"/><path d="M2472.10 908.50 Q2484.60 899.50 2497.10 908.50" stroke="#000" stroke-width="1.30" fill="none" stroke-linejoin="round" stroke-linecap="round"/><ellipse cx="2509.70" cy="889.50" rx="14.0" ry="8.6" fill="none" stroke="#000" stroke-width="1.5"/><path d="M2497.20 894.00 Q2509.70 885.00 2522.20 894.00" stroke="#000" stroke-width="1.30" fill="none" stroke-linejoin="round" stroke-linecap="round"/><path d="M2499.80 935.00 L2546.70 908.00 L2590.20 934.40 L2544.00 960.80 M2553.30 909.30 L2592.20 881.60 L2635.80 908.00 L2590.20 934.40 M2598.80 883.60 L2637.70 857.80 M2637.7 857.8 Q2643 854 2648 857 L2674 872 Q2678.5 875 2677.3 880.9 L2635.8 908 M2499.8 935 Q2496 933.5 2499 942 Q2500 947 2505 950 L2540 968 Q2545 970 2549 967 L2676 892 Q2678 889 2677.3 880.9 M2546.70 908.00 L2553.30 909.30 M2592.20 881.60 L2598.80 883.60" stroke="#000" stroke-width="1.60" fill="none" stroke-linejoin="round" stroke-linecap="round"/><path d="M2502.00 940.00 L2544.00 962.00 M2546.00 963.00 L2674.00 888.00" stroke="#000" stroke-width="0.90" fill="none" stroke-linejoin="round" stroke-linecap="round"/><text x="2181.21" y="996.50" font-size="24.92" stroke="#000" stroke-width="1.00" textLength="112.37" lengthAdjust="spacingAndGlyphs" fill="#000">0 074 430</text><text x="2325.72" y="996.50" font-size="24.92" stroke="#000" stroke-width="1.00" textLength="112.02" lengthAdjust="spacingAndGlyphs" fill="#000">0 044 934</text><text x="2478.46" y="996.50" font-size="24.92" stroke="#000" stroke-width="1.00" textLength="108.16" lengthAdjust="spacingAndGlyphs" fill="#000">9 079 207</text><path d="M2148.30 1037.80L2156.90 1037.80M2150.45 1034.08L2154.75 1041.52M2154.75 1034.08L2150.45 1041.52" stroke="#000" stroke-width="2.30" fill="none"/><path d="M2157.30 1037.80L2165.90 1037.80M2159.45 1034.08L2163.75 1041.52M2163.75 1034.08L2159.45 1041.52" stroke="#000" stroke-width="2.30" fill="none"/><path d="M2148.30 1067.10L2156.90 1067.10M2150.45 1063.38L2154.75 1070.82M2154.75 1063.38L2150.45 1070.82" stroke="#000" stroke-width="2.30" fill="none"/><path d="M2157.30 1067.10L2165.90 1067.10M2159.45 1063.38L2163.75 1070.82M2163.75 1063.38L2159.45 1070.82" stroke="#000" stroke-width="2.30" fill="none"/><path d="M2166.30 1067.10L2174.90 1067.10M2168.45 1063.38L2172.75 1070.82M2172.75 1063.38L2168.45 1070.82" stroke="#000" stroke-width="2.30" fill="none"/><text x="2182.05" y="1053.00" font-size="26.91" stroke="#000" stroke-width="1.00" textLength="101.74" lengthAdjust="spacingAndGlyphs" fill="#000">InnoTech</text><path d="M2303.2 1056.3 L2309.6 1033.5" stroke="#000" stroke-width="3" fill="none"/><text x="2316.75" y="1053.00" font-size="26.91" stroke="#000" stroke-width="1.00" textLength="165.45" lengthAdjust="spacingAndGlyphs" fill="#000">InnoTech Atira</text><text x="2182.05" y="1081.30" font-size="26.89" stroke="#000" stroke-width="1.00" textLength="19.78" lengthAdjust="spacingAndGlyphs" fill="#000">H</text><text x="2210.69" y="1081.30" font-size="24.62" stroke="#000" stroke-width="1.00" textLength="14.01" lengthAdjust="spacingAndGlyphs" fill="#000">≥</text><text x="2234.44" y="1081.30" font-size="26.50" stroke="#000" stroke-width="1.00" textLength="45.14" lengthAdjust="spacingAndGlyphs" fill="#000">139</text><rect x="15.70" y="14.10" width="1003.80" height="713.70" fill="none" stroke="#000" stroke-width="2.60"/><rect x="1049.10" y="14.10" width="875.90" height="713.90" fill="none" stroke="#000" stroke-width="2.60"/><rect x="1957.80" y="17.00" width="728.70" height="713.80" fill="none" stroke="#000" stroke-width="2.60"/><rect x="16.30" y="757.30" width="2673.70" height="677.70" fill="none" stroke="#000" stroke-width="2.60"/><rect x="17.00" y="15.30" width="79.80" height="82.20" fill="#bdbdbd"/><rect x="51.90" y="31.00" width="7.10" height="6.80" fill="#000"/><rect x="51.90" y="43.00" width="7.10" height="27.80" fill="#000"/><rect x="1050.30" y="15.30" width="79.70" height="82.20" fill="#bdbdbd"/><path d="M1078.6 37.9 L1085.4 33.1 L1094.1 33.1 L1094.1 71.1 L1086.2 71.1 L1086.2 42.6 L1078.6 44.1 Z" fill="#000"/><rect x="1959.00" y="18.20" width="81.00" height="81.80" fill="#bdbdbd"/><text stroke="#000" stroke-width="1.6" x="1982.93" y="73.30" font-size="52.27" font-weight="bold" textLength="28.42" lengthAdjust="spacingAndGlyphs" fill="#000">2</text><rect x="17.60" y="758.60" width="79.80" height="82.00" fill="#bdbdbd"/><rect x="53.00" y="774.80" width="7.20" height="6.80" fill="#000"/><rect x="53.00" y="787.00" width="7.20" height="28.00" fill="#000"/></svg></body></html>
